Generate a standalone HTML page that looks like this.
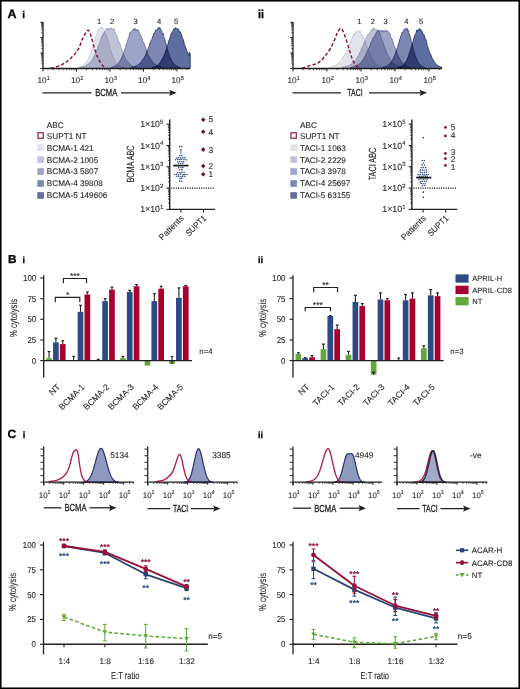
<!DOCTYPE html>
<html><head><meta charset="utf-8"><style>
html,body{margin:0;padding:0;background:#fff;}
svg{display:block;font-family:'Liberation Sans', sans-serif;text-rendering:geometricPrecision;}
</style></head><body>
<svg width="520" height="689" viewBox="0 0 520 689">
<rect width="520" height="689" fill="#fff"/>
<rect x="0.75" y="0.75" width="518.5" height="687.5" fill="none" stroke="#000" stroke-width="1.6"/>
<text x="0" y="0" font-size="12.2" text-anchor="start" font-weight="bold" fill="#000" stroke="#000" stroke-width="0.3" transform="translate(7.50,18.00) scale(1.02,1)" >A</text>
<text x="0" y="0" font-size="9.9" text-anchor="start" font-weight="bold" fill="#000" stroke="#000" stroke-width="0.3" transform="translate(22.30,18.00)" >i</text>
<text x="0" y="0" font-size="11.6" text-anchor="start" font-weight="bold" fill="#000" stroke="#000" stroke-width="0.3" transform="translate(258.00,17.80) scale(0.92,1)" >ii</text>
<text x="0" y="0" font-size="11.6" text-anchor="start" font-weight="bold" fill="#000" stroke="#000" stroke-width="0.3" transform="translate(8.00,262.70) scale(1.02,1)" >B</text>
<text x="0" y="0" font-size="8.9" text-anchor="start" font-weight="bold" fill="#000" stroke="#000" stroke-width="0.3" transform="translate(22.60,262.70)" >i</text>
<text x="0" y="0" font-size="9.1" text-anchor="start" font-weight="bold" fill="#000" stroke="#000" stroke-width="0.3" transform="translate(258.00,262.90)" >ii</text>
<text x="0" y="0" font-size="11.9" text-anchor="start" font-weight="bold" fill="#000" stroke="#000" stroke-width="0.3" transform="translate(7.60,438.20) scale(1.02,1)" >C</text>
<text x="0" y="0" font-size="9.2" text-anchor="start" font-weight="bold" fill="#000" stroke="#000" stroke-width="0.3" transform="translate(22.80,438.20)" >i</text>
<text x="0" y="0" font-size="8.9" text-anchor="start" font-weight="bold" fill="#000" stroke="#000" stroke-width="0.3" transform="translate(258.00,437.70)" >ii</text>
<path d="M78.20,68.50 L78.20,67.41 L78.70,67.30 L79.20,67.17 L79.70,67.02 L80.20,66.85 L80.70,66.67 L81.20,66.46 L81.70,66.22 L82.20,65.96 L82.70,65.67 L83.20,65.33 L83.70,64.96 L84.20,64.55 L84.70,64.08 L85.20,63.56 L85.70,62.99 L86.20,62.35 L86.70,61.64 L87.20,60.87 L87.70,60.12 L88.20,59.33 L88.70,57.98 L89.20,57.35 L89.70,55.82 L90.20,54.74 L90.70,53.76 L91.20,51.89 L91.70,51.03 L92.20,49.03 L92.70,48.01 L93.20,46.43 L93.70,44.28 L94.20,41.92 L94.70,41.61 L95.20,39.83 L95.70,37.41 L96.20,35.15 L96.70,34.53 L97.20,33.60 L97.70,30.88 L98.20,32.15 L98.70,29.00 L99.20,29.71 L99.70,29.45 L100.20,29.04 L100.70,28.18 L101.20,26.68 L101.70,28.42 L102.20,27.34 L102.70,27.46 L103.20,28.71 L103.70,28.92 L104.20,31.12 L104.70,32.17 L105.20,32.99 L105.70,33.17 L106.20,35.27 L106.70,37.11 L107.20,38.18 L107.70,40.18 L108.20,42.21 L108.70,43.09 L109.20,45.03 L109.70,47.47 L110.20,48.67 L110.70,50.37 L111.20,51.53 L111.70,53.22 L112.20,55.06 L112.70,55.76 L113.20,57.70 L113.70,58.59 L114.20,59.41 L114.70,60.53 L115.20,61.39 L115.70,62.17 L116.20,62.87 L116.70,63.50 L117.20,64.07 L117.70,64.57 L118.20,65.01 L118.70,65.40 L119.20,65.75 L119.70,66.06 L120.20,66.33 L120.70,66.57 L121.20,66.78 L121.70,66.96 L122.20,67.13 L122.70,67.27 L123.20,67.40 L123.20,68.50 Z" fill="rgb(226,227,237)" stroke="rgb(196,198,214)" stroke-width="0.9" stroke-linejoin="round" style="mix-blend-mode:multiply"/>
<path d="M80.41,68.50 L80.41,67.45 L80.91,67.35 L81.41,67.25 L81.91,67.13 L82.41,67.01 L82.91,66.87 L83.41,66.71 L83.91,66.54 L84.41,66.36 L84.91,66.15 L85.41,65.92 L85.91,65.67 L86.41,65.39 L86.91,65.09 L87.41,64.75 L87.91,64.38 L88.41,63.98 L88.91,63.54 L89.41,63.05 L89.91,62.53 L90.41,61.96 L90.91,61.33 L91.41,60.66 L91.91,60.15 L92.41,59.17 L92.91,58.66 L93.41,57.32 L93.91,56.29 L94.41,55.45 L94.91,54.10 L95.41,53.57 L95.91,52.01 L96.41,50.92 L96.91,49.71 L97.41,48.61 L97.91,46.74 L98.41,45.23 L98.91,44.65 L99.41,42.97 L99.91,42.75 L100.41,40.21 L100.91,39.00 L101.41,36.98 L101.91,36.09 L102.41,36.13 L102.91,34.80 L103.41,33.07 L103.91,33.73 L104.41,31.77 L104.91,31.78 L105.41,31.28 L105.91,30.91 L106.41,28.56 L106.91,30.03 L107.41,29.54 L107.91,29.10 L108.41,28.01 L108.91,29.97 L109.41,28.94 L109.91,28.66 L110.41,28.01 L110.91,28.01 L111.41,28.01 L111.91,29.42 L112.41,29.15 L112.91,29.57 L113.41,28.55 L113.91,28.93 L114.41,31.77 L114.91,32.51 L115.41,33.30 L115.91,34.33 L116.41,34.87 L116.91,35.87 L117.41,37.90 L117.91,39.78 L118.41,40.32 L118.91,41.84 L119.41,42.93 L119.91,43.75 L120.41,45.67 L120.91,47.38 L121.41,48.65 L121.91,49.96 L122.41,52.04 L122.91,52.35 L123.41,53.73 L123.91,54.83 L124.41,56.03 L124.91,57.40 L125.41,58.36 L125.91,59.46 L126.41,59.96 L126.91,60.82 L127.41,61.54 L127.91,62.19 L128.41,62.80 L128.91,63.35 L129.41,63.84 L129.91,64.30 L130.41,64.71 L130.91,65.08 L131.41,65.41 L131.91,65.71 L132.41,65.98 L132.91,66.22 L133.41,66.44 L133.91,66.63 L134.41,66.81 L134.91,66.97 L135.41,67.11 L135.91,67.24 L136.41,67.35 L136.41,68.50 Z" fill="rgb(192,195,216)" stroke="rgb(150,154,182)" stroke-width="0.9" stroke-linejoin="round" style="mix-blend-mode:multiply"/>
<path d="M111.06,68.50 L111.06,67.46 L111.56,67.34 L112.06,67.21 L112.56,67.07 L113.06,66.90 L113.56,66.71 L114.06,66.51 L114.56,66.27 L115.06,66.00 L115.56,65.70 L116.06,65.37 L116.56,64.99 L117.06,64.56 L117.56,64.08 L118.06,63.55 L118.56,62.95 L119.06,62.29 L119.56,61.57 L120.06,60.76 L120.56,60.15 L121.06,59.22 L121.56,58.11 L122.06,57.05 L122.56,55.72 L123.06,54.74 L123.56,53.49 L124.06,51.95 L124.56,50.57 L125.06,48.71 L125.56,47.66 L126.06,44.74 L126.56,43.54 L127.06,42.77 L127.56,41.01 L128.06,39.28 L128.56,37.76 L129.06,36.89 L129.56,33.87 L130.06,32.26 L130.56,32.45 L131.06,31.45 L131.56,31.71 L132.06,31.06 L132.56,29.97 L133.06,29.92 L133.56,28.41 L134.06,30.13 L134.56,30.51 L135.06,28.41 L135.56,29.12 L136.06,30.25 L136.56,29.38 L137.06,31.12 L137.56,30.23 L138.06,29.63 L138.56,30.65 L139.06,31.90 L139.56,33.89 L140.06,34.61 L140.56,36.14 L141.06,35.90 L141.56,37.64 L142.06,38.39 L142.56,40.59 L143.06,42.09 L143.56,42.35 L144.06,43.42 L144.56,45.02 L145.06,46.45 L145.56,47.77 L146.06,49.18 L146.56,51.08 L147.06,51.93 L147.56,53.27 L148.06,54.71 L148.56,55.74 L149.06,56.50 L149.56,57.46 L150.06,58.04 L150.56,58.72 L151.06,59.85 L151.56,60.31 L152.06,61.24 L152.56,61.88 L153.06,62.46 L153.56,63.00 L154.06,63.49 L154.56,63.94 L155.06,64.36 L155.56,64.73 L156.06,65.07 L156.56,65.38 L157.06,65.66 L157.56,65.92 L158.06,66.15 L158.56,66.36 L159.06,66.55 L159.56,66.72 L160.06,66.87 L160.56,67.02 L161.06,67.14 L161.56,67.26 L162.06,67.36 L162.56,67.46 L162.56,68.50 Z" fill="rgb(158,164,200)" stroke="rgb(98,105,150)" stroke-width="0.9" stroke-linejoin="round" style="mix-blend-mode:multiply"/>
<path d="M131.08,68.50 L131.08,67.44 L131.58,67.35 L132.08,67.24 L132.58,67.13 L133.08,67.00 L133.58,66.86 L134.08,66.71 L134.58,66.54 L135.08,66.36 L135.58,66.16 L136.08,65.93 L136.58,65.68 L137.08,65.41 L137.58,65.11 L138.08,64.78 L138.58,64.42 L139.08,64.03 L139.58,63.59 L140.08,63.12 L140.58,62.61 L141.08,62.05 L141.58,61.44 L142.08,60.79 L142.58,59.79 L143.08,59.03 L143.58,58.61 L144.08,57.86 L144.58,56.96 L145.08,56.03 L145.58,55.02 L146.08,53.53 L146.58,52.09 L147.08,50.96 L147.58,50.19 L148.08,48.70 L148.58,47.20 L149.08,46.98 L149.58,44.75 L150.08,42.97 L150.58,41.84 L151.08,40.55 L151.58,39.76 L152.08,39.12 L152.58,36.56 L153.08,36.38 L153.58,34.15 L154.08,32.64 L154.58,33.05 L155.08,32.13 L155.58,29.89 L156.08,29.74 L156.58,30.63 L157.08,30.27 L157.58,29.85 L158.08,27.70 L158.58,27.70 L159.08,29.49 L159.58,27.70 L160.08,27.70 L160.58,28.81 L161.08,30.32 L161.58,30.66 L162.08,32.80 L162.58,34.29 L163.08,33.34 L163.58,35.63 L164.08,37.52 L164.58,38.37 L165.08,41.12 L165.58,42.09 L166.08,43.99 L166.58,46.75 L167.08,48.39 L167.58,49.99 L168.08,51.65 L168.58,52.79 L169.08,54.59 L169.58,55.81 L170.08,57.32 L170.58,57.91 L171.08,59.40 L171.58,60.33 L172.08,61.21 L172.58,62.03 L173.08,62.77 L173.58,63.43 L174.08,64.02 L174.58,64.54 L175.08,65.00 L175.58,65.40 L176.08,65.76 L176.58,66.08 L177.08,66.35 L177.58,66.60 L178.08,66.81 L178.58,67.00 L179.08,67.16 L179.58,67.31 L180.08,67.44 L180.08,68.50 Z" fill="rgb(125,135,180)" stroke="rgb(58,68,118)" stroke-width="0.9" stroke-linejoin="round" style="mix-blend-mode:multiply"/>
<path d="M152.20,68.50 L152.20,67.44 L152.70,67.33 L153.20,67.20 L153.70,67.05 L154.20,66.89 L154.70,66.71 L155.20,66.51 L155.70,66.28 L156.20,66.02 L156.70,65.74 L157.20,65.41 L157.70,65.05 L158.20,64.64 L158.70,64.19 L159.20,63.68 L159.70,63.12 L160.20,62.50 L160.70,61.81 L161.20,61.05 L161.70,60.18 L162.20,59.07 L162.70,58.40 L163.20,56.96 L163.70,56.15 L164.20,54.92 L164.70,53.64 L165.20,52.85 L165.70,50.96 L166.20,49.84 L166.70,48.61 L167.20,45.87 L167.70,45.29 L168.20,43.20 L168.70,41.13 L169.20,39.87 L169.70,38.81 L170.20,36.91 L170.70,35.41 L171.20,33.52 L171.70,33.96 L172.20,31.72 L172.70,31.57 L173.20,30.69 L173.70,28.69 L174.20,28.92 L174.70,28.46 L175.20,27.78 L175.70,27.70 L176.20,28.66 L176.70,28.23 L177.20,28.72 L177.70,29.04 L178.20,29.03 L178.70,30.30 L179.20,30.82 L179.70,31.83 L180.20,31.64 L180.70,33.34 L181.20,34.10 L181.70,35.22 L182.20,38.05 L182.70,38.75 L183.20,39.39 L183.70,41.05 L184.20,43.76 L184.70,45.19 L185.20,46.07 L185.70,48.02 L186.20,49.12 L186.70,50.66 L187.20,51.21 L187.70,52.35 L188.20,53.46 L188.70,55.34 L189.20,55.91 L189.60,52.30 L190.20,54.30 L190.20,68.50 Z" fill="rgb(95,110,160)" stroke="rgb(38,48,98)" stroke-width="0.9" stroke-linejoin="round" style="mix-blend-mode:multiply"/>
<path d="M50.50,68.30 C52.08,67.85 57.25,66.73 60.00,65.60 C62.75,64.47 64.88,63.05 67.00,61.50 C69.12,59.95 70.78,58.42 72.70,56.30 C74.62,54.18 76.78,51.88 78.50,48.80 C80.22,45.72 81.37,40.90 83.00,37.80 C84.63,34.70 86.85,30.08 88.30,30.20 C89.75,30.32 90.65,35.40 91.70,38.50 C92.75,41.60 93.55,45.55 94.60,48.80 C95.65,52.05 96.65,55.20 98.00,58.00 C99.35,60.80 101.43,64.00 102.70,65.60 C103.97,67.20 105.12,67.27 105.60,67.60" fill="none" stroke="#8e1b3e" stroke-width="1.5" stroke-dasharray="3.4,2.1"/>
<line x1="43.00" y1="69.10" x2="43.00" y2="22.00" stroke="#231f20" stroke-width="1.3" />
<line x1="40.20" y1="68.50" x2="43.00" y2="68.50" stroke="#231f20" stroke-width="0.9" />
<line x1="41.10" y1="63.83" x2="43.00" y2="63.83" stroke="#231f20" stroke-width="0.7" />
<line x1="41.10" y1="61.10" x2="43.00" y2="61.10" stroke="#231f20" stroke-width="0.7" />
<line x1="41.10" y1="59.17" x2="43.00" y2="59.17" stroke="#231f20" stroke-width="0.7" />
<line x1="41.10" y1="57.67" x2="43.00" y2="57.67" stroke="#231f20" stroke-width="0.7" />
<line x1="41.10" y1="56.44" x2="43.00" y2="56.44" stroke="#231f20" stroke-width="0.7" />
<line x1="41.10" y1="55.40" x2="43.00" y2="55.40" stroke="#231f20" stroke-width="0.7" />
<line x1="41.10" y1="54.50" x2="43.00" y2="54.50" stroke="#231f20" stroke-width="0.7" />
<line x1="41.10" y1="53.71" x2="43.00" y2="53.71" stroke="#231f20" stroke-width="0.7" />
<line x1="40.20" y1="53.00" x2="43.00" y2="53.00" stroke="#231f20" stroke-width="0.9" />
<line x1="41.10" y1="48.33" x2="43.00" y2="48.33" stroke="#231f20" stroke-width="0.7" />
<line x1="41.10" y1="45.60" x2="43.00" y2="45.60" stroke="#231f20" stroke-width="0.7" />
<line x1="41.10" y1="43.67" x2="43.00" y2="43.67" stroke="#231f20" stroke-width="0.7" />
<line x1="41.10" y1="42.17" x2="43.00" y2="42.17" stroke="#231f20" stroke-width="0.7" />
<line x1="41.10" y1="40.94" x2="43.00" y2="40.94" stroke="#231f20" stroke-width="0.7" />
<line x1="41.10" y1="39.90" x2="43.00" y2="39.90" stroke="#231f20" stroke-width="0.7" />
<line x1="41.10" y1="39.00" x2="43.00" y2="39.00" stroke="#231f20" stroke-width="0.7" />
<line x1="41.10" y1="38.21" x2="43.00" y2="38.21" stroke="#231f20" stroke-width="0.7" />
<line x1="40.20" y1="37.50" x2="43.00" y2="37.50" stroke="#231f20" stroke-width="0.9" />
<line x1="41.10" y1="32.83" x2="43.00" y2="32.83" stroke="#231f20" stroke-width="0.7" />
<line x1="41.10" y1="30.10" x2="43.00" y2="30.10" stroke="#231f20" stroke-width="0.7" />
<line x1="41.10" y1="28.17" x2="43.00" y2="28.17" stroke="#231f20" stroke-width="0.7" />
<line x1="41.10" y1="26.67" x2="43.00" y2="26.67" stroke="#231f20" stroke-width="0.7" />
<line x1="41.10" y1="25.44" x2="43.00" y2="25.44" stroke="#231f20" stroke-width="0.7" />
<line x1="41.10" y1="24.40" x2="43.00" y2="24.40" stroke="#231f20" stroke-width="0.7" />
<line x1="41.10" y1="23.50" x2="43.00" y2="23.50" stroke="#231f20" stroke-width="0.7" />
<line x1="41.10" y1="22.71" x2="43.00" y2="22.71" stroke="#231f20" stroke-width="0.7" />
<line x1="40.20" y1="22.30" x2="43.00" y2="22.30" stroke="#231f20" stroke-width="0.9" />
<text x="0" y="0" font-size="7.6" text-anchor="middle" font-weight="normal" fill="#231f20" stroke="#231f20" stroke-width="0.1" transform="translate(99.20,24.00)" >1</text>
<text x="0" y="0" font-size="7.6" text-anchor="middle" font-weight="normal" fill="#231f20" stroke="#231f20" stroke-width="0.1" transform="translate(112.10,24.00)" >2</text>
<text x="0" y="0" font-size="7.6" text-anchor="middle" font-weight="normal" fill="#231f20" stroke="#231f20" stroke-width="0.1" transform="translate(135.70,24.00)" >3</text>
<text x="0" y="0" font-size="7.6" text-anchor="middle" font-weight="normal" fill="#231f20" stroke="#231f20" stroke-width="0.1" transform="translate(159.00,24.00)" >4</text>
<text x="0" y="0" font-size="7.6" text-anchor="middle" font-weight="normal" fill="#231f20" stroke="#231f20" stroke-width="0.1" transform="translate(176.10,24.00)" >5</text>
<line x1="42.40" y1="68.50" x2="190.00" y2="68.50" stroke="#231f20" stroke-width="1.3" />
<line x1="43.00" y1="68.50" x2="43.00" y2="71.50" stroke="#231f20" stroke-width="1" />
<line x1="53.08" y1="68.50" x2="53.08" y2="70.20" stroke="#231f20" stroke-width="0.75" />
<line x1="58.98" y1="68.50" x2="58.98" y2="70.20" stroke="#231f20" stroke-width="0.75" />
<line x1="63.17" y1="68.50" x2="63.17" y2="70.20" stroke="#231f20" stroke-width="0.75" />
<line x1="66.42" y1="68.50" x2="66.42" y2="70.20" stroke="#231f20" stroke-width="0.75" />
<line x1="69.07" y1="68.50" x2="69.07" y2="70.20" stroke="#231f20" stroke-width="0.75" />
<line x1="71.31" y1="68.50" x2="71.31" y2="70.20" stroke="#231f20" stroke-width="0.75" />
<line x1="73.25" y1="68.50" x2="73.25" y2="70.20" stroke="#231f20" stroke-width="0.75" />
<line x1="74.97" y1="68.50" x2="74.97" y2="70.20" stroke="#231f20" stroke-width="0.75" />
<line x1="76.50" y1="68.50" x2="76.50" y2="71.50" stroke="#231f20" stroke-width="1" />
<line x1="86.58" y1="68.50" x2="86.58" y2="70.20" stroke="#231f20" stroke-width="0.75" />
<line x1="92.48" y1="68.50" x2="92.48" y2="70.20" stroke="#231f20" stroke-width="0.75" />
<line x1="96.67" y1="68.50" x2="96.67" y2="70.20" stroke="#231f20" stroke-width="0.75" />
<line x1="99.92" y1="68.50" x2="99.92" y2="70.20" stroke="#231f20" stroke-width="0.75" />
<line x1="102.57" y1="68.50" x2="102.57" y2="70.20" stroke="#231f20" stroke-width="0.75" />
<line x1="104.81" y1="68.50" x2="104.81" y2="70.20" stroke="#231f20" stroke-width="0.75" />
<line x1="106.75" y1="68.50" x2="106.75" y2="70.20" stroke="#231f20" stroke-width="0.75" />
<line x1="108.47" y1="68.50" x2="108.47" y2="70.20" stroke="#231f20" stroke-width="0.75" />
<line x1="110.00" y1="68.50" x2="110.00" y2="71.50" stroke="#231f20" stroke-width="1" />
<line x1="120.08" y1="68.50" x2="120.08" y2="70.20" stroke="#231f20" stroke-width="0.75" />
<line x1="125.98" y1="68.50" x2="125.98" y2="70.20" stroke="#231f20" stroke-width="0.75" />
<line x1="130.17" y1="68.50" x2="130.17" y2="70.20" stroke="#231f20" stroke-width="0.75" />
<line x1="133.42" y1="68.50" x2="133.42" y2="70.20" stroke="#231f20" stroke-width="0.75" />
<line x1="136.07" y1="68.50" x2="136.07" y2="70.20" stroke="#231f20" stroke-width="0.75" />
<line x1="138.31" y1="68.50" x2="138.31" y2="70.20" stroke="#231f20" stroke-width="0.75" />
<line x1="140.25" y1="68.50" x2="140.25" y2="70.20" stroke="#231f20" stroke-width="0.75" />
<line x1="141.97" y1="68.50" x2="141.97" y2="70.20" stroke="#231f20" stroke-width="0.75" />
<line x1="143.50" y1="68.50" x2="143.50" y2="71.50" stroke="#231f20" stroke-width="1" />
<line x1="153.58" y1="68.50" x2="153.58" y2="70.20" stroke="#231f20" stroke-width="0.75" />
<line x1="159.48" y1="68.50" x2="159.48" y2="70.20" stroke="#231f20" stroke-width="0.75" />
<line x1="163.67" y1="68.50" x2="163.67" y2="70.20" stroke="#231f20" stroke-width="0.75" />
<line x1="166.92" y1="68.50" x2="166.92" y2="70.20" stroke="#231f20" stroke-width="0.75" />
<line x1="169.57" y1="68.50" x2="169.57" y2="70.20" stroke="#231f20" stroke-width="0.75" />
<line x1="171.81" y1="68.50" x2="171.81" y2="70.20" stroke="#231f20" stroke-width="0.75" />
<line x1="173.75" y1="68.50" x2="173.75" y2="70.20" stroke="#231f20" stroke-width="0.75" />
<line x1="175.47" y1="68.50" x2="175.47" y2="70.20" stroke="#231f20" stroke-width="0.75" />
<line x1="177.00" y1="68.50" x2="177.00" y2="71.50" stroke="#231f20" stroke-width="1" />
<line x1="187.08" y1="68.50" x2="187.08" y2="70.20" stroke="#231f20" stroke-width="0.75" />
<text x="0" y="0" font-size="8.3" text-anchor="middle" fill="#231f20" stroke="#231f20" stroke-width="0.1" transform="translate(43.60,83.30)">10<tspan font-size="5.7" dy="-3.3">1</tspan></text>
<text x="0" y="0" font-size="8.3" text-anchor="middle" fill="#231f20" stroke="#231f20" stroke-width="0.1" transform="translate(77.10,83.30)">10<tspan font-size="5.7" dy="-3.3">2</tspan></text>
<text x="0" y="0" font-size="8.3" text-anchor="middle" fill="#231f20" stroke="#231f20" stroke-width="0.1" transform="translate(110.60,83.30)">10<tspan font-size="5.7" dy="-3.3">3</tspan></text>
<text x="0" y="0" font-size="8.3" text-anchor="middle" fill="#231f20" stroke="#231f20" stroke-width="0.1" transform="translate(144.10,83.30)">10<tspan font-size="5.7" dy="-3.3">4</tspan></text>
<text x="0" y="0" font-size="8.3" text-anchor="middle" fill="#231f20" stroke="#231f20" stroke-width="0.1" transform="translate(177.60,83.30)">10<tspan font-size="5.7" dy="-3.3">5</tspan></text>
<line x1="42.50" y1="92.80" x2="91.50" y2="92.80" stroke="#231f20" stroke-width="1.25" />
<line x1="121.00" y1="92.80" x2="171.60" y2="92.80" stroke="#231f20" stroke-width="1.25" />
<path d="M169.10,89.70 L176.60,92.80 L169.10,95.90 L170.60,92.80 Z" fill="#231f20"/>
<text x="0" y="0" font-size="10.2" text-anchor="middle" font-weight="normal" fill="#231f20" stroke="#231f20" stroke-width="0.3" transform="translate(106.25,96.40) scale(0.75,1)" >BCMA</text>
<path d="M328.50,68.50 L328.50,67.52 L329.00,67.43 L329.50,67.34 L330.00,67.25 L330.50,67.14 L331.00,67.02 L331.50,66.89 L332.00,66.76 L332.50,66.60 L333.00,66.44 L333.50,66.25 L334.00,66.05 L334.50,65.83 L335.00,65.59 L335.50,65.33 L336.00,65.04 L336.50,64.73 L337.00,64.39 L337.50,64.02 L338.00,63.62 L338.50,63.18 L339.00,62.71 L339.50,62.20 L340.00,61.66 L340.50,61.07 L341.00,60.64 L341.50,59.54 L342.00,58.75 L342.50,58.50 L343.00,57.15 L343.50,56.74 L344.00,55.78 L344.50,54.37 L345.00,53.53 L345.50,53.23 L346.00,51.90 L346.50,50.73 L347.00,49.87 L347.50,48.96 L348.00,47.66 L348.50,45.90 L349.00,45.88 L349.50,43.84 L350.00,42.90 L350.50,42.56 L351.00,40.87 L351.50,39.21 L352.00,38.39 L352.50,38.37 L353.00,35.39 L353.50,34.92 L354.00,33.65 L354.50,34.98 L355.00,33.93 L355.50,33.93 L356.00,31.58 L356.50,32.48 L357.00,32.55 L357.50,31.60 L358.00,30.56 L358.50,30.56 L359.00,32.09 L359.50,32.64 L360.00,31.07 L360.50,32.48 L361.00,32.80 L361.50,35.03 L362.00,35.93 L362.50,35.39 L363.00,37.01 L363.50,38.85 L364.00,38.19 L364.50,40.03 L365.00,40.97 L365.50,43.56 L366.00,43.50 L366.50,46.11 L367.00,46.15 L367.50,48.06 L368.00,49.48 L368.50,50.44 L369.00,51.22 L369.50,53.14 L370.00,54.39 L370.50,55.07 L371.00,56.35 L371.50,57.41 L372.00,58.27 L372.50,59.19 L373.00,59.89 L373.50,60.56 L374.00,61.16 L374.50,61.81 L375.00,62.41 L375.50,62.96 L376.00,63.47 L376.50,63.93 L377.00,64.35 L377.50,64.74 L378.00,65.09 L378.50,65.40 L379.00,65.69 L379.50,65.95 L380.00,66.18 L380.50,66.40 L381.00,66.59 L381.50,66.76 L382.00,66.91 L382.50,67.06 L383.00,67.18 L383.50,67.30 L384.00,67.40 L384.50,67.50 L384.50,68.50 Z" fill="rgb(226,227,237)" stroke="rgb(196,198,214)" stroke-width="0.9" stroke-linejoin="round" style="mix-blend-mode:multiply"/>
<path d="M342.12,68.50 L342.12,67.45 L342.62,67.37 L343.12,67.28 L343.62,67.18 L344.12,67.08 L344.62,66.96 L345.12,66.84 L345.62,66.70 L346.12,66.56 L346.62,66.40 L347.12,66.23 L347.62,66.04 L348.12,65.83 L348.62,65.61 L349.12,65.36 L349.62,65.10 L350.12,64.81 L350.62,64.50 L351.12,64.16 L351.62,63.80 L352.12,63.40 L352.62,62.98 L353.12,62.52 L353.62,62.02 L354.12,61.49 L354.62,60.93 L355.12,60.44 L355.62,59.52 L356.12,59.14 L356.62,58.27 L357.12,57.76 L357.62,56.83 L358.12,56.28 L358.62,55.21 L359.12,54.53 L359.62,52.83 L360.12,52.03 L360.62,51.43 L361.12,50.02 L361.62,48.31 L362.12,48.36 L362.62,46.18 L363.12,45.63 L363.62,44.37 L364.12,42.62 L364.62,42.25 L365.12,40.89 L365.62,39.40 L366.12,37.66 L366.62,37.92 L367.12,35.79 L367.62,35.05 L368.12,34.25 L368.62,33.90 L369.12,33.20 L369.62,33.18 L370.12,32.30 L370.62,31.85 L371.12,29.52 L371.62,30.38 L372.12,30.27 L372.62,30.22 L373.12,28.01 L373.62,28.01 L374.12,28.33 L374.62,29.41 L375.12,29.52 L375.62,29.40 L376.12,29.10 L376.62,30.22 L377.12,29.86 L377.62,30.91 L378.12,29.75 L378.62,30.54 L379.12,32.55 L379.62,34.29 L380.12,33.66 L380.62,36.37 L381.12,37.48 L381.62,39.50 L382.12,40.02 L382.62,41.19 L383.12,42.52 L383.62,44.43 L384.12,45.29 L384.62,47.43 L385.12,48.36 L385.62,49.90 L386.12,50.77 L386.62,52.42 L387.12,53.60 L387.62,54.44 L388.12,55.58 L388.62,56.30 L389.12,57.33 L389.62,58.10 L390.12,59.04 L390.62,59.82 L391.12,60.70 L391.62,61.39 L392.12,62.03 L392.62,62.61 L393.12,63.15 L393.62,63.64 L394.12,64.09 L394.62,64.50 L395.12,64.87 L395.62,65.21 L396.12,65.51 L396.62,65.79 L397.12,66.04 L397.62,66.26 L398.12,66.47 L398.62,66.65 L399.12,66.81 L399.62,66.96 L400.12,67.10 L400.62,67.22 L401.12,67.33 L401.62,67.43 L401.62,68.50 Z" fill="rgb(192,195,216)" stroke="rgb(150,154,182)" stroke-width="0.9" stroke-linejoin="round" style="mix-blend-mode:multiply"/>
<path d="M350.49,68.50 L350.49,67.51 L350.99,67.42 L351.49,67.33 L351.99,67.22 L352.49,67.11 L352.99,66.99 L353.49,66.85 L353.99,66.71 L354.49,66.54 L354.99,66.36 L355.49,66.17 L355.99,65.95 L356.49,65.71 L356.99,65.45 L357.49,65.17 L357.99,64.86 L358.49,64.51 L358.99,64.14 L359.49,63.74 L359.99,63.30 L360.49,62.82 L360.99,62.30 L361.49,61.74 L361.99,61.14 L362.49,60.28 L362.99,59.86 L363.49,59.17 L363.99,57.92 L364.49,57.71 L364.99,56.37 L365.49,55.50 L365.99,55.10 L366.49,53.30 L366.99,52.16 L367.49,51.35 L367.99,50.09 L368.49,48.81 L368.99,48.57 L369.49,46.83 L369.99,45.66 L370.49,43.90 L370.99,42.72 L371.49,41.46 L371.99,40.73 L372.49,38.96 L372.99,38.26 L373.49,37.16 L373.99,37.17 L374.49,36.70 L374.99,35.61 L375.49,34.28 L375.99,34.20 L376.49,31.76 L376.99,31.93 L377.49,31.32 L377.99,31.00 L378.49,30.64 L378.99,31.04 L379.49,32.30 L379.99,30.25 L380.49,30.35 L380.99,30.99 L381.49,30.91 L381.99,30.58 L382.49,32.14 L382.99,30.38 L383.49,31.65 L383.99,32.12 L384.49,31.62 L384.99,30.40 L385.49,31.77 L385.99,30.37 L386.49,30.25 L386.99,31.06 L387.49,31.56 L387.99,31.66 L388.49,31.65 L388.99,32.10 L389.49,33.27 L389.99,34.12 L390.49,36.47 L390.99,37.40 L391.49,38.35 L391.99,38.61 L392.49,40.84 L392.99,41.72 L393.49,44.12 L393.99,45.43 L394.49,46.49 L394.99,47.31 L395.49,48.70 L395.99,50.12 L396.49,51.92 L396.99,52.94 L397.49,54.23 L397.99,55.40 L398.49,56.81 L398.99,57.23 L399.49,58.73 L399.99,59.13 L400.49,60.03 L400.99,61.06 L401.49,61.78 L401.99,62.44 L402.49,63.04 L402.99,63.58 L403.49,64.08 L403.99,64.53 L404.49,64.93 L404.99,65.29 L405.49,65.61 L405.99,65.90 L406.49,66.16 L406.99,66.40 L407.49,66.60 L407.99,66.79 L408.49,66.96 L408.99,67.11 L409.49,67.24 L409.99,67.36 L410.49,67.47 L410.49,68.50 Z" fill="rgb(158,164,200)" stroke="rgb(98,105,150)" stroke-width="0.9" stroke-linejoin="round" style="mix-blend-mode:multiply"/>
<path d="M383.03,68.50 L383.03,67.43 L383.53,67.32 L384.03,67.18 L384.53,67.04 L385.03,66.87 L385.53,66.68 L386.03,66.47 L386.53,66.24 L387.03,65.97 L387.53,65.67 L388.03,65.34 L388.53,64.96 L389.03,64.54 L389.53,64.06 L390.03,63.54 L390.53,62.95 L391.03,62.30 L391.53,61.58 L392.03,60.79 L392.53,60.21 L393.03,59.01 L393.53,57.72 L394.03,56.47 L394.53,55.71 L395.03,54.63 L395.53,53.38 L396.03,51.13 L396.53,50.55 L397.03,48.54 L397.53,47.62 L398.03,45.44 L398.53,43.07 L399.03,42.89 L399.53,39.97 L400.03,38.98 L400.53,36.61 L401.03,35.50 L401.53,35.20 L402.03,32.27 L402.53,32.10 L403.03,32.26 L403.53,31.45 L404.03,29.40 L404.53,28.95 L405.03,28.98 L405.53,29.24 L406.03,28.67 L406.53,29.00 L407.03,28.07 L407.53,31.13 L408.03,30.13 L408.53,31.15 L409.03,34.37 L409.53,34.02 L410.03,36.26 L410.53,37.71 L411.03,40.85 L411.53,42.60 L412.03,44.49 L412.53,45.46 L413.03,48.00 L413.53,50.14 L414.03,51.80 L414.53,53.62 L415.03,55.37 L415.53,56.74 L416.03,57.49 L416.53,59.11 L417.03,59.83 L417.53,61.09 L418.03,61.99 L418.53,62.79 L419.03,63.50 L419.53,64.13 L420.03,64.68 L420.53,65.16 L421.03,65.58 L421.53,65.94 L422.03,66.26 L422.53,66.53 L423.03,66.77 L423.53,66.98 L424.03,67.16 L424.53,67.32 L424.53,68.50 Z" fill="rgb(125,135,180)" stroke="rgb(58,68,118)" stroke-width="0.9" stroke-linejoin="round" style="mix-blend-mode:multiply"/>
<path d="M398.14,68.50 L398.14,67.47 L398.64,67.34 L399.14,67.20 L399.64,67.03 L400.14,66.84 L400.64,66.63 L401.14,66.39 L401.64,66.11 L402.14,65.79 L402.64,65.43 L403.14,65.02 L403.64,64.56 L404.14,64.03 L404.64,63.44 L405.14,62.77 L405.64,62.02 L406.14,61.19 L406.64,60.41 L407.14,59.41 L407.64,58.14 L408.14,57.19 L408.64,55.75 L409.14,53.78 L409.64,52.33 L410.14,50.82 L410.64,49.39 L411.14,47.28 L411.64,45.45 L412.14,44.30 L412.64,42.23 L413.14,41.76 L413.64,38.71 L414.14,37.66 L414.64,35.44 L415.14,34.24 L415.64,33.82 L416.14,33.31 L416.64,30.10 L417.14,31.45 L417.64,29.99 L418.14,30.02 L418.64,30.05 L419.14,28.85 L419.64,28.72 L420.14,30.20 L420.64,29.33 L421.14,30.67 L421.64,30.54 L422.14,31.69 L422.64,33.13 L423.14,34.13 L423.64,35.12 L424.14,34.74 L424.64,37.02 L425.14,39.02 L425.64,39.09 L426.14,40.49 L426.64,43.06 L427.14,45.14 L427.64,46.57 L428.14,48.22 L428.64,49.34 L429.14,51.10 L429.64,52.30 L430.14,53.61 L430.64,54.57 L431.14,55.52 L431.64,56.80 L432.14,58.14 L432.64,59.12 L433.14,59.97 L433.64,60.83 L434.14,61.60 L434.64,62.31 L435.14,62.95 L435.64,63.53 L436.14,64.05 L436.64,64.52 L437.14,64.93 L437.64,65.31 L438.14,65.64 L438.64,65.94 L439.14,66.21 L439.64,66.45 L440.14,66.66 L440.64,66.84 L441.14,67.01 L441.64,67.16 L441.64,68.50 Z" fill="rgb(95,110,160)" stroke="rgb(38,48,98)" stroke-width="0.9" stroke-linejoin="round" style="mix-blend-mode:multiply"/>
<path d="M302.00,68.30 C303.40,67.82 307.73,66.28 310.40,65.40 C313.07,64.52 315.70,64.40 318.00,63.00 C320.30,61.60 322.13,59.42 324.20,57.00 C326.27,54.58 328.47,51.83 330.40,48.50 C332.33,45.17 334.62,39.75 335.80,37.00 C336.98,34.25 336.60,33.42 337.50,32.00 C338.40,30.58 340.08,28.20 341.20,28.50 C342.32,28.80 343.18,31.38 344.20,33.80 C345.22,36.22 346.40,40.17 347.30,43.00 C348.20,45.83 348.82,48.22 349.60,50.80 C350.38,53.38 351.23,56.47 352.00,58.50 C352.77,60.53 353.45,61.72 354.20,63.00 C354.95,64.28 355.78,65.40 356.50,66.20 C357.22,67.00 358.17,67.53 358.50,67.80" fill="none" stroke="#8e1b3e" stroke-width="1.5" stroke-dasharray="3.4,2.1"/>
<line x1="293.00" y1="69.10" x2="293.00" y2="22.00" stroke="#231f20" stroke-width="1.3" />
<line x1="290.20" y1="68.50" x2="293.00" y2="68.50" stroke="#231f20" stroke-width="0.9" />
<line x1="291.10" y1="63.83" x2="293.00" y2="63.83" stroke="#231f20" stroke-width="0.7" />
<line x1="291.10" y1="61.10" x2="293.00" y2="61.10" stroke="#231f20" stroke-width="0.7" />
<line x1="291.10" y1="59.17" x2="293.00" y2="59.17" stroke="#231f20" stroke-width="0.7" />
<line x1="291.10" y1="57.67" x2="293.00" y2="57.67" stroke="#231f20" stroke-width="0.7" />
<line x1="291.10" y1="56.44" x2="293.00" y2="56.44" stroke="#231f20" stroke-width="0.7" />
<line x1="291.10" y1="55.40" x2="293.00" y2="55.40" stroke="#231f20" stroke-width="0.7" />
<line x1="291.10" y1="54.50" x2="293.00" y2="54.50" stroke="#231f20" stroke-width="0.7" />
<line x1="291.10" y1="53.71" x2="293.00" y2="53.71" stroke="#231f20" stroke-width="0.7" />
<line x1="290.20" y1="53.00" x2="293.00" y2="53.00" stroke="#231f20" stroke-width="0.9" />
<line x1="291.10" y1="48.33" x2="293.00" y2="48.33" stroke="#231f20" stroke-width="0.7" />
<line x1="291.10" y1="45.60" x2="293.00" y2="45.60" stroke="#231f20" stroke-width="0.7" />
<line x1="291.10" y1="43.67" x2="293.00" y2="43.67" stroke="#231f20" stroke-width="0.7" />
<line x1="291.10" y1="42.17" x2="293.00" y2="42.17" stroke="#231f20" stroke-width="0.7" />
<line x1="291.10" y1="40.94" x2="293.00" y2="40.94" stroke="#231f20" stroke-width="0.7" />
<line x1="291.10" y1="39.90" x2="293.00" y2="39.90" stroke="#231f20" stroke-width="0.7" />
<line x1="291.10" y1="39.00" x2="293.00" y2="39.00" stroke="#231f20" stroke-width="0.7" />
<line x1="291.10" y1="38.21" x2="293.00" y2="38.21" stroke="#231f20" stroke-width="0.7" />
<line x1="290.20" y1="37.50" x2="293.00" y2="37.50" stroke="#231f20" stroke-width="0.9" />
<line x1="291.10" y1="32.83" x2="293.00" y2="32.83" stroke="#231f20" stroke-width="0.7" />
<line x1="291.10" y1="30.10" x2="293.00" y2="30.10" stroke="#231f20" stroke-width="0.7" />
<line x1="291.10" y1="28.17" x2="293.00" y2="28.17" stroke="#231f20" stroke-width="0.7" />
<line x1="291.10" y1="26.67" x2="293.00" y2="26.67" stroke="#231f20" stroke-width="0.7" />
<line x1="291.10" y1="25.44" x2="293.00" y2="25.44" stroke="#231f20" stroke-width="0.7" />
<line x1="291.10" y1="24.40" x2="293.00" y2="24.40" stroke="#231f20" stroke-width="0.7" />
<line x1="291.10" y1="23.50" x2="293.00" y2="23.50" stroke="#231f20" stroke-width="0.7" />
<line x1="291.10" y1="22.71" x2="293.00" y2="22.71" stroke="#231f20" stroke-width="0.7" />
<line x1="290.20" y1="22.30" x2="293.00" y2="22.30" stroke="#231f20" stroke-width="0.9" />
<text x="0" y="0" font-size="7.6" text-anchor="middle" font-weight="normal" fill="#231f20" stroke="#231f20" stroke-width="0.1" transform="translate(359.30,24.00)" >1</text>
<text x="0" y="0" font-size="7.6" text-anchor="middle" font-weight="normal" fill="#231f20" stroke="#231f20" stroke-width="0.1" transform="translate(372.80,24.00)" >2</text>
<text x="0" y="0" font-size="7.6" text-anchor="middle" font-weight="normal" fill="#231f20" stroke="#231f20" stroke-width="0.1" transform="translate(385.60,24.00)" >3</text>
<text x="0" y="0" font-size="7.6" text-anchor="middle" font-weight="normal" fill="#231f20" stroke="#231f20" stroke-width="0.1" transform="translate(406.40,24.00)" >4</text>
<text x="0" y="0" font-size="7.6" text-anchor="middle" font-weight="normal" fill="#231f20" stroke="#231f20" stroke-width="0.1" transform="translate(421.20,24.00)" >5</text>
<line x1="292.40" y1="68.50" x2="442.00" y2="68.50" stroke="#231f20" stroke-width="1.3" />
<line x1="293.00" y1="68.50" x2="293.00" y2="71.50" stroke="#231f20" stroke-width="1" />
<line x1="303.24" y1="68.50" x2="303.24" y2="70.20" stroke="#231f20" stroke-width="0.75" />
<line x1="309.22" y1="68.50" x2="309.22" y2="70.20" stroke="#231f20" stroke-width="0.75" />
<line x1="313.47" y1="68.50" x2="313.47" y2="70.20" stroke="#231f20" stroke-width="0.75" />
<line x1="316.76" y1="68.50" x2="316.76" y2="70.20" stroke="#231f20" stroke-width="0.75" />
<line x1="319.46" y1="68.50" x2="319.46" y2="70.20" stroke="#231f20" stroke-width="0.75" />
<line x1="321.73" y1="68.50" x2="321.73" y2="70.20" stroke="#231f20" stroke-width="0.75" />
<line x1="323.71" y1="68.50" x2="323.71" y2="70.20" stroke="#231f20" stroke-width="0.75" />
<line x1="325.44" y1="68.50" x2="325.44" y2="70.20" stroke="#231f20" stroke-width="0.75" />
<line x1="327.00" y1="68.50" x2="327.00" y2="71.50" stroke="#231f20" stroke-width="1" />
<line x1="337.24" y1="68.50" x2="337.24" y2="70.20" stroke="#231f20" stroke-width="0.75" />
<line x1="343.22" y1="68.50" x2="343.22" y2="70.20" stroke="#231f20" stroke-width="0.75" />
<line x1="347.47" y1="68.50" x2="347.47" y2="70.20" stroke="#231f20" stroke-width="0.75" />
<line x1="350.76" y1="68.50" x2="350.76" y2="70.20" stroke="#231f20" stroke-width="0.75" />
<line x1="353.46" y1="68.50" x2="353.46" y2="70.20" stroke="#231f20" stroke-width="0.75" />
<line x1="355.73" y1="68.50" x2="355.73" y2="70.20" stroke="#231f20" stroke-width="0.75" />
<line x1="357.71" y1="68.50" x2="357.71" y2="70.20" stroke="#231f20" stroke-width="0.75" />
<line x1="359.44" y1="68.50" x2="359.44" y2="70.20" stroke="#231f20" stroke-width="0.75" />
<line x1="361.00" y1="68.50" x2="361.00" y2="71.50" stroke="#231f20" stroke-width="1" />
<line x1="371.24" y1="68.50" x2="371.24" y2="70.20" stroke="#231f20" stroke-width="0.75" />
<line x1="377.22" y1="68.50" x2="377.22" y2="70.20" stroke="#231f20" stroke-width="0.75" />
<line x1="381.47" y1="68.50" x2="381.47" y2="70.20" stroke="#231f20" stroke-width="0.75" />
<line x1="384.76" y1="68.50" x2="384.76" y2="70.20" stroke="#231f20" stroke-width="0.75" />
<line x1="387.46" y1="68.50" x2="387.46" y2="70.20" stroke="#231f20" stroke-width="0.75" />
<line x1="389.73" y1="68.50" x2="389.73" y2="70.20" stroke="#231f20" stroke-width="0.75" />
<line x1="391.71" y1="68.50" x2="391.71" y2="70.20" stroke="#231f20" stroke-width="0.75" />
<line x1="393.44" y1="68.50" x2="393.44" y2="70.20" stroke="#231f20" stroke-width="0.75" />
<line x1="395.00" y1="68.50" x2="395.00" y2="71.50" stroke="#231f20" stroke-width="1" />
<line x1="405.24" y1="68.50" x2="405.24" y2="70.20" stroke="#231f20" stroke-width="0.75" />
<line x1="411.22" y1="68.50" x2="411.22" y2="70.20" stroke="#231f20" stroke-width="0.75" />
<line x1="415.47" y1="68.50" x2="415.47" y2="70.20" stroke="#231f20" stroke-width="0.75" />
<line x1="418.76" y1="68.50" x2="418.76" y2="70.20" stroke="#231f20" stroke-width="0.75" />
<line x1="421.46" y1="68.50" x2="421.46" y2="70.20" stroke="#231f20" stroke-width="0.75" />
<line x1="423.73" y1="68.50" x2="423.73" y2="70.20" stroke="#231f20" stroke-width="0.75" />
<line x1="425.71" y1="68.50" x2="425.71" y2="70.20" stroke="#231f20" stroke-width="0.75" />
<line x1="427.44" y1="68.50" x2="427.44" y2="70.20" stroke="#231f20" stroke-width="0.75" />
<line x1="429.00" y1="68.50" x2="429.00" y2="71.50" stroke="#231f20" stroke-width="1" />
<line x1="439.24" y1="68.50" x2="439.24" y2="70.20" stroke="#231f20" stroke-width="0.75" />
<text x="0" y="0" font-size="8.3" text-anchor="middle" fill="#231f20" stroke="#231f20" stroke-width="0.1" transform="translate(293.60,83.30)">10<tspan font-size="5.7" dy="-3.3">1</tspan></text>
<text x="0" y="0" font-size="8.3" text-anchor="middle" fill="#231f20" stroke="#231f20" stroke-width="0.1" transform="translate(327.60,83.30)">10<tspan font-size="5.7" dy="-3.3">2</tspan></text>
<text x="0" y="0" font-size="8.3" text-anchor="middle" fill="#231f20" stroke="#231f20" stroke-width="0.1" transform="translate(361.60,83.30)">10<tspan font-size="5.7" dy="-3.3">3</tspan></text>
<text x="0" y="0" font-size="8.3" text-anchor="middle" fill="#231f20" stroke="#231f20" stroke-width="0.1" transform="translate(395.60,83.30)">10<tspan font-size="5.7" dy="-3.3">4</tspan></text>
<text x="0" y="0" font-size="8.3" text-anchor="middle" fill="#231f20" stroke="#231f20" stroke-width="0.1" transform="translate(429.60,83.30)">10<tspan font-size="5.7" dy="-3.3">5</tspan></text>
<line x1="292.50" y1="92.80" x2="341.00" y2="92.80" stroke="#231f20" stroke-width="1.25" />
<line x1="369.00" y1="92.80" x2="422.00" y2="92.80" stroke="#231f20" stroke-width="1.25" />
<path d="M419.50,89.70 L427.00,92.80 L419.50,95.90 L421.00,92.80 Z" fill="#231f20"/>
<text x="0" y="0" font-size="10.2" text-anchor="middle" font-weight="normal" fill="#231f20" stroke="#231f20" stroke-width="0.3" transform="translate(355.00,96.40) scale(0.68,1)" >TACI</text>
<text x="0" y="0" font-size="8.2" text-anchor="start" font-weight="normal" fill="#231f20" stroke="#231f20" stroke-width="0.1" transform="translate(46.80,127.90)" >ABC</text>
<rect x="37.90" y="132.80" width="5.4" height="5.4" fill="#fff" stroke="#8e1b3e" stroke-width="1.2"/>
<text x="0" y="0" font-size="8.2" text-anchor="start" font-weight="normal" fill="#231f20" stroke="#231f20" stroke-width="0.1" transform="translate(46.80,138.60)" >SUPT1 NT</text>
<rect x="37.30" y="144.35" width="6.60" height="6.60" fill="rgb(226,227,237)" />
<text x="0" y="0" font-size="8.2" text-anchor="start" font-weight="normal" fill="#231f20" stroke="#231f20" stroke-width="0.1" transform="translate(46.80,150.55)" >BCMA-1 421</text>
<rect x="37.30" y="156.30" width="6.60" height="6.60" fill="rgb(192,195,216)" />
<text x="0" y="0" font-size="8.2" text-anchor="start" font-weight="normal" fill="#231f20" stroke="#231f20" stroke-width="0.1" transform="translate(46.80,162.50)" >BCMA-2 1005</text>
<rect x="37.30" y="168.25" width="6.60" height="6.60" fill="rgb(158,164,200)" />
<text x="0" y="0" font-size="8.2" text-anchor="start" font-weight="normal" fill="#231f20" stroke="#231f20" stroke-width="0.1" transform="translate(46.80,174.45)" >BCMA-3 5807</text>
<rect x="37.30" y="180.20" width="6.60" height="6.60" fill="rgb(125,135,180)" />
<text x="0" y="0" font-size="8.2" text-anchor="start" font-weight="normal" fill="#231f20" stroke="#231f20" stroke-width="0.1" transform="translate(46.80,186.40)" >BCMA-4 39808</text>
<rect x="37.30" y="192.15" width="6.60" height="6.60" fill="rgb(95,110,160)" />
<text x="0" y="0" font-size="8.2" text-anchor="start" font-weight="normal" fill="#231f20" stroke="#231f20" stroke-width="0.1" transform="translate(46.80,198.35)" >BCMA-5 149606</text>
<text x="0" y="0" font-size="8.2" text-anchor="start" font-weight="normal" fill="#231f20" stroke="#231f20" stroke-width="0.1" transform="translate(300.00,127.90)" >ABC</text>
<rect x="290.90" y="132.80" width="5.4" height="5.4" fill="#fff" stroke="#8e1b3e" stroke-width="1.2"/>
<text x="0" y="0" font-size="8.2" text-anchor="start" font-weight="normal" fill="#231f20" stroke="#231f20" stroke-width="0.1" transform="translate(300.00,138.60)" >SUPT1 NT</text>
<rect x="290.30" y="144.35" width="6.60" height="6.60" fill="rgb(226,227,237)" />
<text x="0" y="0" font-size="8.2" text-anchor="start" font-weight="normal" fill="#231f20" stroke="#231f20" stroke-width="0.1" transform="translate(300.00,150.55)" >TACI-1 1063</text>
<rect x="290.30" y="156.30" width="6.60" height="6.60" fill="rgb(192,195,216)" />
<text x="0" y="0" font-size="8.2" text-anchor="start" font-weight="normal" fill="#231f20" stroke="#231f20" stroke-width="0.1" transform="translate(300.00,162.50)" >TACI-2 2229</text>
<rect x="290.30" y="168.25" width="6.60" height="6.60" fill="rgb(158,164,200)" />
<text x="0" y="0" font-size="8.2" text-anchor="start" font-weight="normal" fill="#231f20" stroke="#231f20" stroke-width="0.1" transform="translate(300.00,174.45)" >TACI-3 3978</text>
<rect x="290.30" y="180.20" width="6.60" height="6.60" fill="rgb(125,135,180)" />
<text x="0" y="0" font-size="8.2" text-anchor="start" font-weight="normal" fill="#231f20" stroke="#231f20" stroke-width="0.1" transform="translate(300.00,186.40)" >TACI-4 25697</text>
<rect x="290.30" y="192.15" width="6.60" height="6.60" fill="rgb(95,110,160)" />
<text x="0" y="0" font-size="8.2" text-anchor="start" font-weight="normal" fill="#231f20" stroke="#231f20" stroke-width="0.1" transform="translate(300.00,198.35)" >TACI-5 63155</text>
<line x1="169.70" y1="119.50" x2="169.70" y2="210.00" stroke="#231f20" stroke-width="1.4" />
<line x1="169.10" y1="209.40" x2="215.20" y2="209.40" stroke="#231f20" stroke-width="1.4" />
<line x1="166.50" y1="209.40" x2="169.70" y2="209.40" stroke="#231f20" stroke-width="1.1" />
<line x1="167.90" y1="202.99" x2="169.70" y2="202.99" stroke="#231f20" stroke-width="0.75" />
<line x1="167.90" y1="199.24" x2="169.70" y2="199.24" stroke="#231f20" stroke-width="0.75" />
<line x1="167.90" y1="196.58" x2="169.70" y2="196.58" stroke="#231f20" stroke-width="0.75" />
<line x1="167.90" y1="194.51" x2="169.70" y2="194.51" stroke="#231f20" stroke-width="0.75" />
<line x1="167.90" y1="192.83" x2="169.70" y2="192.83" stroke="#231f20" stroke-width="0.75" />
<line x1="167.90" y1="191.40" x2="169.70" y2="191.40" stroke="#231f20" stroke-width="0.75" />
<line x1="167.90" y1="190.16" x2="169.70" y2="190.16" stroke="#231f20" stroke-width="0.75" />
<line x1="167.90" y1="189.07" x2="169.70" y2="189.07" stroke="#231f20" stroke-width="0.75" />
<text x="0" y="0" font-size="8.8" text-anchor="end" fill="#231f20" stroke="#231f20" stroke-width="0.1" transform="translate(163.30,212.40)">1×10<tspan font-size="6.0" dy="-3.4">1</tspan></text>
<line x1="166.50" y1="188.10" x2="169.70" y2="188.10" stroke="#231f20" stroke-width="1.1" />
<line x1="167.90" y1="181.69" x2="169.70" y2="181.69" stroke="#231f20" stroke-width="0.75" />
<line x1="167.90" y1="177.94" x2="169.70" y2="177.94" stroke="#231f20" stroke-width="0.75" />
<line x1="167.90" y1="175.28" x2="169.70" y2="175.28" stroke="#231f20" stroke-width="0.75" />
<line x1="167.90" y1="173.21" x2="169.70" y2="173.21" stroke="#231f20" stroke-width="0.75" />
<line x1="167.90" y1="171.53" x2="169.70" y2="171.53" stroke="#231f20" stroke-width="0.75" />
<line x1="167.90" y1="170.10" x2="169.70" y2="170.10" stroke="#231f20" stroke-width="0.75" />
<line x1="167.90" y1="168.86" x2="169.70" y2="168.86" stroke="#231f20" stroke-width="0.75" />
<line x1="167.90" y1="167.77" x2="169.70" y2="167.77" stroke="#231f20" stroke-width="0.75" />
<text x="0" y="0" font-size="8.8" text-anchor="end" fill="#231f20" stroke="#231f20" stroke-width="0.1" transform="translate(163.30,191.10)">1×10<tspan font-size="6.0" dy="-3.4">2</tspan></text>
<line x1="166.50" y1="166.80" x2="169.70" y2="166.80" stroke="#231f20" stroke-width="1.1" />
<line x1="167.90" y1="160.39" x2="169.70" y2="160.39" stroke="#231f20" stroke-width="0.75" />
<line x1="167.90" y1="156.64" x2="169.70" y2="156.64" stroke="#231f20" stroke-width="0.75" />
<line x1="167.90" y1="153.98" x2="169.70" y2="153.98" stroke="#231f20" stroke-width="0.75" />
<line x1="167.90" y1="151.91" x2="169.70" y2="151.91" stroke="#231f20" stroke-width="0.75" />
<line x1="167.90" y1="150.23" x2="169.70" y2="150.23" stroke="#231f20" stroke-width="0.75" />
<line x1="167.90" y1="148.80" x2="169.70" y2="148.80" stroke="#231f20" stroke-width="0.75" />
<line x1="167.90" y1="147.56" x2="169.70" y2="147.56" stroke="#231f20" stroke-width="0.75" />
<line x1="167.90" y1="146.47" x2="169.70" y2="146.47" stroke="#231f20" stroke-width="0.75" />
<text x="0" y="0" font-size="8.8" text-anchor="end" fill="#231f20" stroke="#231f20" stroke-width="0.1" transform="translate(163.30,169.80)">1×10<tspan font-size="6.0" dy="-3.4">3</tspan></text>
<line x1="166.50" y1="145.50" x2="169.70" y2="145.50" stroke="#231f20" stroke-width="1.1" />
<line x1="167.90" y1="139.09" x2="169.70" y2="139.09" stroke="#231f20" stroke-width="0.75" />
<line x1="167.90" y1="135.34" x2="169.70" y2="135.34" stroke="#231f20" stroke-width="0.75" />
<line x1="167.90" y1="132.68" x2="169.70" y2="132.68" stroke="#231f20" stroke-width="0.75" />
<line x1="167.90" y1="130.61" x2="169.70" y2="130.61" stroke="#231f20" stroke-width="0.75" />
<line x1="167.90" y1="128.93" x2="169.70" y2="128.93" stroke="#231f20" stroke-width="0.75" />
<line x1="167.90" y1="127.50" x2="169.70" y2="127.50" stroke="#231f20" stroke-width="0.75" />
<line x1="167.90" y1="126.26" x2="169.70" y2="126.26" stroke="#231f20" stroke-width="0.75" />
<line x1="167.90" y1="125.17" x2="169.70" y2="125.17" stroke="#231f20" stroke-width="0.75" />
<text x="0" y="0" font-size="8.8" text-anchor="end" fill="#231f20" stroke="#231f20" stroke-width="0.1" transform="translate(163.30,148.50)">1×10<tspan font-size="6.0" dy="-3.4">4</tspan></text>
<line x1="166.50" y1="124.20" x2="169.70" y2="124.20" stroke="#231f20" stroke-width="1.1" />
<text x="0" y="0" font-size="8.8" text-anchor="end" fill="#231f20" stroke="#231f20" stroke-width="0.1" transform="translate(163.30,127.20)">1×10<tspan font-size="6.0" dy="-3.4">5</tspan></text>
<line x1="180.90" y1="209.40" x2="180.90" y2="212.40" stroke="#231f20" stroke-width="1.1" />
<line x1="203.50" y1="209.40" x2="203.50" y2="212.40" stroke="#231f20" stroke-width="1.1" />
<line x1="171.20" y1="188.10" x2="213.70" y2="188.10" stroke="#111" stroke-width="1.15" stroke-dasharray="1.1,1.2"/>
<text x="0" y="0" font-size="10.4" text-anchor="middle" font-weight="normal" fill="#231f20" stroke="#231f20" stroke-width="0.1" transform="translate(133.60,164.00) rotate(-90) scale(0.7,1)" >BCMA ABC</text>
<text x="0" y="0" font-size="8.6" text-anchor="end" font-weight="normal" fill="#231f20" stroke="#231f20" stroke-width="0.1" transform="translate(184.30,218.80) rotate(-45)" >Patients</text>
<text x="0" y="0" font-size="8.6" text-anchor="end" font-weight="normal" fill="#231f20" stroke="#231f20" stroke-width="0.1" transform="translate(206.90,218.80) rotate(-45) scale(0.92,1)" >SUPT1</text>
<circle cx="179.65" cy="146.67" r="0.8" fill="#34507e"/>
<circle cx="181.85" cy="146.37" r="0.8" fill="#34507e"/>
<circle cx="180.95" cy="149.51" r="0.8" fill="#34507e"/>
<circle cx="180.93" cy="151.06" r="0.8" fill="#34507e"/>
<circle cx="180.83" cy="153.00" r="0.8" fill="#34507e"/>
<circle cx="179.83" cy="155.58" r="0.8" fill="#34507e"/>
<circle cx="181.92" cy="155.64" r="0.8" fill="#34507e"/>
<circle cx="176.52" cy="157.97" r="0.8" fill="#34507e"/>
<circle cx="178.60" cy="157.68" r="0.8" fill="#34507e"/>
<circle cx="180.57" cy="158.03" r="0.8" fill="#34507e"/>
<circle cx="182.89" cy="157.73" r="0.8" fill="#34507e"/>
<circle cx="184.88" cy="157.81" r="0.8" fill="#34507e"/>
<circle cx="175.61" cy="159.74" r="0.8" fill="#34507e"/>
<circle cx="177.69" cy="159.42" r="0.8" fill="#34507e"/>
<circle cx="179.83" cy="159.52" r="0.8" fill="#34507e"/>
<circle cx="181.67" cy="159.37" r="0.8" fill="#34507e"/>
<circle cx="184.04" cy="159.33" r="0.8" fill="#34507e"/>
<circle cx="186.16" cy="159.74" r="0.8" fill="#34507e"/>
<circle cx="177.84" cy="161.80" r="0.8" fill="#34507e"/>
<circle cx="179.68" cy="161.53" r="0.8" fill="#34507e"/>
<circle cx="181.85" cy="161.77" r="0.8" fill="#34507e"/>
<circle cx="183.68" cy="161.59" r="0.8" fill="#34507e"/>
<circle cx="178.55" cy="163.44" r="0.8" fill="#34507e"/>
<circle cx="180.64" cy="163.55" r="0.8" fill="#34507e"/>
<circle cx="182.83" cy="163.29" r="0.8" fill="#34507e"/>
<circle cx="178.59" cy="167.60" r="0.8" fill="#34507e"/>
<circle cx="181.01" cy="167.82" r="0.8" fill="#34507e"/>
<circle cx="182.83" cy="167.52" r="0.8" fill="#34507e"/>
<circle cx="179.62" cy="169.73" r="0.8" fill="#34507e"/>
<circle cx="181.94" cy="169.67" r="0.8" fill="#34507e"/>
<circle cx="177.74" cy="172.45" r="0.8" fill="#34507e"/>
<circle cx="179.92" cy="172.57" r="0.8" fill="#34507e"/>
<circle cx="181.84" cy="172.22" r="0.8" fill="#34507e"/>
<circle cx="184.11" cy="172.31" r="0.8" fill="#34507e"/>
<circle cx="174.54" cy="174.62" r="0.8" fill="#34507e"/>
<circle cx="176.62" cy="174.24" r="0.8" fill="#34507e"/>
<circle cx="178.50" cy="174.68" r="0.8" fill="#34507e"/>
<circle cx="180.68" cy="174.13" r="0.8" fill="#34507e"/>
<circle cx="183.09" cy="174.57" r="0.8" fill="#34507e"/>
<circle cx="184.83" cy="174.53" r="0.8" fill="#34507e"/>
<circle cx="186.99" cy="174.43" r="0.8" fill="#34507e"/>
<circle cx="176.58" cy="176.23" r="0.8" fill="#34507e"/>
<circle cx="178.56" cy="176.18" r="0.8" fill="#34507e"/>
<circle cx="180.90" cy="176.44" r="0.8" fill="#34507e"/>
<circle cx="182.75" cy="176.17" r="0.8" fill="#34507e"/>
<circle cx="184.81" cy="176.34" r="0.8" fill="#34507e"/>
<circle cx="180.02" cy="178.65" r="0.8" fill="#34507e"/>
<circle cx="181.83" cy="178.13" r="0.8" fill="#34507e"/>
<circle cx="179.68" cy="181.14" r="0.8" fill="#34507e"/>
<circle cx="181.86" cy="181.36" r="0.8" fill="#34507e"/>
<line x1="173.30" y1="165.60" x2="188.40" y2="165.60" stroke="#111" stroke-width="1.7" />
<path d="M203.20,171.90 L205.40,174.20 L203.20,176.50 L201.00,174.20 Z" fill="#6e0c2e"/>
<text x="0" y="0" font-size="8.4" text-anchor="start" font-weight="normal" fill="#231f20" stroke="#231f20" stroke-width="0.1" transform="translate(208.60,177.30)" >1</text>
<path d="M203.20,163.70 L205.40,166.00 L203.20,168.30 L201.00,166.00 Z" fill="#6e0c2e"/>
<text x="0" y="0" font-size="8.4" text-anchor="start" font-weight="normal" fill="#231f20" stroke="#231f20" stroke-width="0.1" transform="translate(208.60,168.80)" >2</text>
<path d="M203.20,147.30 L205.40,149.60 L203.20,151.90 L201.00,149.60 Z" fill="#6e0c2e"/>
<text x="0" y="0" font-size="8.4" text-anchor="start" font-weight="normal" fill="#231f20" stroke="#231f20" stroke-width="0.1" transform="translate(208.60,152.50)" >3</text>
<path d="M203.20,129.50 L205.40,131.80 L203.20,134.10 L201.00,131.80 Z" fill="#6e0c2e"/>
<text x="0" y="0" font-size="8.4" text-anchor="start" font-weight="normal" fill="#231f20" stroke="#231f20" stroke-width="0.1" transform="translate(208.60,134.70)" >4</text>
<path d="M203.20,117.50 L205.40,119.80 L203.20,122.10 L201.00,119.80 Z" fill="#6e0c2e"/>
<text x="0" y="0" font-size="8.4" text-anchor="start" font-weight="normal" fill="#231f20" stroke="#231f20" stroke-width="0.1" transform="translate(208.60,122.20)" >5</text>
<line x1="411.90" y1="119.50" x2="411.90" y2="210.00" stroke="#231f20" stroke-width="1.4" />
<line x1="411.30" y1="209.40" x2="457.40" y2="209.40" stroke="#231f20" stroke-width="1.4" />
<line x1="408.70" y1="209.40" x2="411.90" y2="209.40" stroke="#231f20" stroke-width="1.1" />
<line x1="410.10" y1="202.99" x2="411.90" y2="202.99" stroke="#231f20" stroke-width="0.75" />
<line x1="410.10" y1="199.24" x2="411.90" y2="199.24" stroke="#231f20" stroke-width="0.75" />
<line x1="410.10" y1="196.58" x2="411.90" y2="196.58" stroke="#231f20" stroke-width="0.75" />
<line x1="410.10" y1="194.51" x2="411.90" y2="194.51" stroke="#231f20" stroke-width="0.75" />
<line x1="410.10" y1="192.83" x2="411.90" y2="192.83" stroke="#231f20" stroke-width="0.75" />
<line x1="410.10" y1="191.40" x2="411.90" y2="191.40" stroke="#231f20" stroke-width="0.75" />
<line x1="410.10" y1="190.16" x2="411.90" y2="190.16" stroke="#231f20" stroke-width="0.75" />
<line x1="410.10" y1="189.07" x2="411.90" y2="189.07" stroke="#231f20" stroke-width="0.75" />
<text x="0" y="0" font-size="8.8" text-anchor="end" fill="#231f20" stroke="#231f20" stroke-width="0.1" transform="translate(405.50,212.40)">1×10<tspan font-size="6.0" dy="-3.4">1</tspan></text>
<line x1="408.70" y1="188.10" x2="411.90" y2="188.10" stroke="#231f20" stroke-width="1.1" />
<line x1="410.10" y1="181.69" x2="411.90" y2="181.69" stroke="#231f20" stroke-width="0.75" />
<line x1="410.10" y1="177.94" x2="411.90" y2="177.94" stroke="#231f20" stroke-width="0.75" />
<line x1="410.10" y1="175.28" x2="411.90" y2="175.28" stroke="#231f20" stroke-width="0.75" />
<line x1="410.10" y1="173.21" x2="411.90" y2="173.21" stroke="#231f20" stroke-width="0.75" />
<line x1="410.10" y1="171.53" x2="411.90" y2="171.53" stroke="#231f20" stroke-width="0.75" />
<line x1="410.10" y1="170.10" x2="411.90" y2="170.10" stroke="#231f20" stroke-width="0.75" />
<line x1="410.10" y1="168.86" x2="411.90" y2="168.86" stroke="#231f20" stroke-width="0.75" />
<line x1="410.10" y1="167.77" x2="411.90" y2="167.77" stroke="#231f20" stroke-width="0.75" />
<text x="0" y="0" font-size="8.8" text-anchor="end" fill="#231f20" stroke="#231f20" stroke-width="0.1" transform="translate(405.50,191.10)">1×10<tspan font-size="6.0" dy="-3.4">2</tspan></text>
<line x1="408.70" y1="166.80" x2="411.90" y2="166.80" stroke="#231f20" stroke-width="1.1" />
<line x1="410.10" y1="160.39" x2="411.90" y2="160.39" stroke="#231f20" stroke-width="0.75" />
<line x1="410.10" y1="156.64" x2="411.90" y2="156.64" stroke="#231f20" stroke-width="0.75" />
<line x1="410.10" y1="153.98" x2="411.90" y2="153.98" stroke="#231f20" stroke-width="0.75" />
<line x1="410.10" y1="151.91" x2="411.90" y2="151.91" stroke="#231f20" stroke-width="0.75" />
<line x1="410.10" y1="150.23" x2="411.90" y2="150.23" stroke="#231f20" stroke-width="0.75" />
<line x1="410.10" y1="148.80" x2="411.90" y2="148.80" stroke="#231f20" stroke-width="0.75" />
<line x1="410.10" y1="147.56" x2="411.90" y2="147.56" stroke="#231f20" stroke-width="0.75" />
<line x1="410.10" y1="146.47" x2="411.90" y2="146.47" stroke="#231f20" stroke-width="0.75" />
<text x="0" y="0" font-size="8.8" text-anchor="end" fill="#231f20" stroke="#231f20" stroke-width="0.1" transform="translate(405.50,169.80)">1×10<tspan font-size="6.0" dy="-3.4">3</tspan></text>
<line x1="408.70" y1="145.50" x2="411.90" y2="145.50" stroke="#231f20" stroke-width="1.1" />
<line x1="410.10" y1="139.09" x2="411.90" y2="139.09" stroke="#231f20" stroke-width="0.75" />
<line x1="410.10" y1="135.34" x2="411.90" y2="135.34" stroke="#231f20" stroke-width="0.75" />
<line x1="410.10" y1="132.68" x2="411.90" y2="132.68" stroke="#231f20" stroke-width="0.75" />
<line x1="410.10" y1="130.61" x2="411.90" y2="130.61" stroke="#231f20" stroke-width="0.75" />
<line x1="410.10" y1="128.93" x2="411.90" y2="128.93" stroke="#231f20" stroke-width="0.75" />
<line x1="410.10" y1="127.50" x2="411.90" y2="127.50" stroke="#231f20" stroke-width="0.75" />
<line x1="410.10" y1="126.26" x2="411.90" y2="126.26" stroke="#231f20" stroke-width="0.75" />
<line x1="410.10" y1="125.17" x2="411.90" y2="125.17" stroke="#231f20" stroke-width="0.75" />
<text x="0" y="0" font-size="8.8" text-anchor="end" fill="#231f20" stroke="#231f20" stroke-width="0.1" transform="translate(405.50,148.50)">1×10<tspan font-size="6.0" dy="-3.4">4</tspan></text>
<line x1="408.70" y1="124.20" x2="411.90" y2="124.20" stroke="#231f20" stroke-width="1.1" />
<text x="0" y="0" font-size="8.8" text-anchor="end" fill="#231f20" stroke="#231f20" stroke-width="0.1" transform="translate(405.50,127.20)">1×10<tspan font-size="6.0" dy="-3.4">5</tspan></text>
<line x1="423.10" y1="209.40" x2="423.10" y2="212.40" stroke="#231f20" stroke-width="1.1" />
<line x1="445.70" y1="209.40" x2="445.70" y2="212.40" stroke="#231f20" stroke-width="1.1" />
<line x1="413.40" y1="188.10" x2="455.90" y2="188.10" stroke="#111" stroke-width="1.15" stroke-dasharray="1.1,1.2"/>
<text x="0" y="0" font-size="10.4" text-anchor="middle" font-weight="normal" fill="#231f20" stroke="#231f20" stroke-width="0.1" transform="translate(375.60,164.00) rotate(-90) scale(0.7,1)" >TACI ABC</text>
<text x="0" y="0" font-size="8.6" text-anchor="end" font-weight="normal" fill="#231f20" stroke="#231f20" stroke-width="0.1" transform="translate(426.50,218.80) rotate(-45)" >Patients</text>
<text x="0" y="0" font-size="8.6" text-anchor="end" font-weight="normal" fill="#231f20" stroke="#231f20" stroke-width="0.1" transform="translate(449.10,218.80) rotate(-45) scale(0.92,1)" >SUPT1</text>
<circle cx="422.13" cy="160.50" r="0.8" fill="#34507e"/>
<circle cx="424.38" cy="160.44" r="0.8" fill="#34507e"/>
<circle cx="423.50" cy="162.94" r="0.8" fill="#34507e"/>
<circle cx="422.13" cy="164.91" r="0.8" fill="#34507e"/>
<circle cx="424.54" cy="165.31" r="0.8" fill="#34507e"/>
<circle cx="421.39" cy="167.76" r="0.8" fill="#34507e"/>
<circle cx="423.41" cy="167.43" r="0.8" fill="#34507e"/>
<circle cx="425.54" cy="167.66" r="0.8" fill="#34507e"/>
<circle cx="420.33" cy="170.12" r="0.8" fill="#34507e"/>
<circle cx="422.40" cy="170.05" r="0.8" fill="#34507e"/>
<circle cx="424.10" cy="170.18" r="0.8" fill="#34507e"/>
<circle cx="426.42" cy="170.03" r="0.8" fill="#34507e"/>
<circle cx="420.25" cy="172.11" r="0.8" fill="#34507e"/>
<circle cx="422.07" cy="172.51" r="0.8" fill="#34507e"/>
<circle cx="424.34" cy="172.52" r="0.8" fill="#34507e"/>
<circle cx="426.25" cy="172.14" r="0.8" fill="#34507e"/>
<circle cx="418.09" cy="174.46" r="0.8" fill="#34507e"/>
<circle cx="420.29" cy="174.48" r="0.8" fill="#34507e"/>
<circle cx="422.46" cy="174.58" r="0.8" fill="#34507e"/>
<circle cx="424.25" cy="174.83" r="0.8" fill="#34507e"/>
<circle cx="426.47" cy="174.79" r="0.8" fill="#34507e"/>
<circle cx="428.24" cy="174.43" r="0.8" fill="#34507e"/>
<circle cx="419.21" cy="176.15" r="0.8" fill="#34507e"/>
<circle cx="421.27" cy="176.52" r="0.8" fill="#34507e"/>
<circle cx="423.25" cy="176.28" r="0.8" fill="#34507e"/>
<circle cx="425.48" cy="176.13" r="0.8" fill="#34507e"/>
<circle cx="427.17" cy="176.26" r="0.8" fill="#34507e"/>
<circle cx="418.98" cy="179.45" r="0.8" fill="#34507e"/>
<circle cx="421.04" cy="179.03" r="0.8" fill="#34507e"/>
<circle cx="423.35" cy="179.24" r="0.8" fill="#34507e"/>
<circle cx="425.39" cy="178.99" r="0.8" fill="#34507e"/>
<circle cx="427.42" cy="178.99" r="0.8" fill="#34507e"/>
<circle cx="420.39" cy="181.68" r="0.8" fill="#34507e"/>
<circle cx="422.32" cy="181.25" r="0.8" fill="#34507e"/>
<circle cx="424.35" cy="181.32" r="0.8" fill="#34507e"/>
<circle cx="426.37" cy="181.17" r="0.8" fill="#34507e"/>
<circle cx="421.06" cy="183.57" r="0.8" fill="#34507e"/>
<circle cx="423.24" cy="183.76" r="0.8" fill="#34507e"/>
<circle cx="425.17" cy="183.79" r="0.8" fill="#34507e"/>
<circle cx="422.41" cy="185.77" r="0.8" fill="#34507e"/>
<circle cx="424.57" cy="185.54" r="0.8" fill="#34507e"/>
<line x1="416.20" y1="177.60" x2="431.40" y2="177.60" stroke="#111" stroke-width="1.7" />
<circle cx="423.30" cy="137.60" r="0.85" fill="#2d4270"/>
<circle cx="423.30" cy="192.20" r="0.85" fill="#2d4270"/>
<circle cx="423.30" cy="197.30" r="0.85" fill="#2d4270"/>
<circle cx="445.40" cy="165.40" r="1.35" fill="#7a1034"/>
<text x="0" y="0" font-size="8.4" text-anchor="start" font-weight="normal" fill="#231f20" stroke="#231f20" stroke-width="0.1" transform="translate(450.80,170.00)" >1</text>
<circle cx="445.40" cy="158.60" r="1.35" fill="#7a1034"/>
<text x="0" y="0" font-size="8.4" text-anchor="start" font-weight="normal" fill="#231f20" stroke="#231f20" stroke-width="0.1" transform="translate(450.80,162.10)" >2</text>
<circle cx="445.40" cy="153.40" r="1.35" fill="#7a1034"/>
<text x="0" y="0" font-size="8.4" text-anchor="start" font-weight="normal" fill="#231f20" stroke="#231f20" stroke-width="0.1" transform="translate(450.80,154.60)" >3</text>
<circle cx="445.40" cy="135.90" r="1.35" fill="#7a1034"/>
<text x="0" y="0" font-size="8.4" text-anchor="start" font-weight="normal" fill="#231f20" stroke="#231f20" stroke-width="0.1" transform="translate(450.80,138.40)" >4</text>
<circle cx="445.40" cy="127.40" r="1.35" fill="#7a1034"/>
<text x="0" y="0" font-size="8.4" text-anchor="start" font-weight="normal" fill="#231f20" stroke="#231f20" stroke-width="0.1" transform="translate(450.80,130.10)" >5</text>
<rect x="46.20" y="358.12" width="5.70" height="2.48" fill="#64a83c" />
<line x1="49.05" y1="358.12" x2="49.05" y2="351.51" stroke="#231f20" stroke-width="1.1" />
<line x1="47.65" y1="351.51" x2="50.45" y2="351.51" stroke="#231f20" stroke-width="1.2" />
<rect x="53.05" y="342.43" width="5.70" height="18.17" fill="#2e4a85" />
<line x1="55.90" y1="342.43" x2="55.90" y2="338.30" stroke="#231f20" stroke-width="1.1" />
<line x1="54.50" y1="338.30" x2="57.30" y2="338.30" stroke="#231f20" stroke-width="1.2" />
<rect x="59.90" y="344.08" width="5.70" height="16.52" fill="#a8002c" />
<line x1="62.75" y1="344.08" x2="62.75" y2="340.78" stroke="#231f20" stroke-width="1.1" />
<line x1="61.35" y1="340.78" x2="64.15" y2="340.78" stroke="#231f20" stroke-width="1.2" />
<rect x="70.80" y="360.60" width="5.70" height="0.00" fill="#64a83c" />
<line x1="73.65" y1="360.60" x2="73.65" y2="356.47" stroke="#231f20" stroke-width="1.1" />
<line x1="72.25" y1="356.47" x2="75.05" y2="356.47" stroke="#231f20" stroke-width="1.2" />
<rect x="77.65" y="311.87" width="5.70" height="48.73" fill="#2e4a85" />
<line x1="80.50" y1="311.87" x2="80.50" y2="305.26" stroke="#231f20" stroke-width="1.1" />
<line x1="79.10" y1="305.26" x2="81.90" y2="305.26" stroke="#231f20" stroke-width="1.2" />
<rect x="84.50" y="294.52" width="5.70" height="66.08" fill="#a8002c" />
<line x1="87.35" y1="294.52" x2="87.35" y2="292.04" stroke="#231f20" stroke-width="1.1" />
<line x1="85.95" y1="292.04" x2="88.75" y2="292.04" stroke="#231f20" stroke-width="1.2" />
<rect x="95.40" y="360.19" width="5.70" height="0.41" fill="#64a83c" />
<line x1="98.25" y1="360.19" x2="98.25" y2="359.36" stroke="#231f20" stroke-width="1.1" />
<line x1="96.85" y1="359.36" x2="99.65" y2="359.36" stroke="#231f20" stroke-width="1.2" />
<rect x="102.25" y="301.13" width="5.70" height="59.47" fill="#2e4a85" />
<line x1="105.10" y1="301.13" x2="105.10" y2="298.65" stroke="#231f20" stroke-width="1.1" />
<line x1="103.70" y1="298.65" x2="106.50" y2="298.65" stroke="#231f20" stroke-width="1.2" />
<rect x="109.10" y="289.56" width="5.70" height="71.04" fill="#a8002c" />
<line x1="111.95" y1="289.56" x2="111.95" y2="287.09" stroke="#231f20" stroke-width="1.1" />
<line x1="110.55" y1="287.09" x2="113.35" y2="287.09" stroke="#231f20" stroke-width="1.2" />
<rect x="120.00" y="358.12" width="5.70" height="2.48" fill="#64a83c" />
<line x1="122.85" y1="358.12" x2="122.85" y2="356.47" stroke="#231f20" stroke-width="1.1" />
<line x1="121.45" y1="356.47" x2="124.25" y2="356.47" stroke="#231f20" stroke-width="1.2" />
<rect x="126.85" y="292.04" width="5.70" height="68.56" fill="#2e4a85" />
<line x1="129.70" y1="292.04" x2="129.70" y2="290.39" stroke="#231f20" stroke-width="1.1" />
<line x1="128.30" y1="290.39" x2="131.10" y2="290.39" stroke="#231f20" stroke-width="1.2" />
<rect x="133.70" y="286.26" width="5.70" height="74.34" fill="#a8002c" />
<line x1="136.55" y1="286.26" x2="136.55" y2="284.61" stroke="#231f20" stroke-width="1.1" />
<line x1="135.15" y1="284.61" x2="137.95" y2="284.61" stroke="#231f20" stroke-width="1.2" />
<rect x="144.60" y="360.60" width="5.70" height="4.96" fill="#64a83c" />
<rect x="151.45" y="301.13" width="5.70" height="59.47" fill="#2e4a85" />
<line x1="154.30" y1="301.13" x2="154.30" y2="293.69" stroke="#231f20" stroke-width="1.1" />
<line x1="152.90" y1="293.69" x2="155.70" y2="293.69" stroke="#231f20" stroke-width="1.2" />
<rect x="158.30" y="288.74" width="5.70" height="71.86" fill="#a8002c" />
<line x1="161.15" y1="288.74" x2="161.15" y2="286.26" stroke="#231f20" stroke-width="1.1" />
<line x1="159.75" y1="286.26" x2="162.55" y2="286.26" stroke="#231f20" stroke-width="1.2" />
<rect x="169.20" y="360.60" width="5.70" height="3.30" fill="#64a83c" />
<line x1="172.05" y1="363.90" x2="172.05" y2="356.47" stroke="#231f20" stroke-width="1.1" />
<line x1="170.65" y1="356.47" x2="173.45" y2="356.47" stroke="#231f20" stroke-width="1.2" />
<rect x="176.05" y="297.82" width="5.70" height="62.78" fill="#2e4a85" />
<line x1="178.90" y1="297.82" x2="178.90" y2="287.91" stroke="#231f20" stroke-width="1.1" />
<line x1="177.50" y1="287.91" x2="180.30" y2="287.91" stroke="#231f20" stroke-width="1.2" />
<rect x="182.90" y="286.26" width="5.70" height="74.34" fill="#a8002c" />
<line x1="185.75" y1="286.26" x2="185.75" y2="285.43" stroke="#231f20" stroke-width="1.1" />
<line x1="184.35" y1="285.43" x2="187.15" y2="285.43" stroke="#231f20" stroke-width="1.2" />
<line x1="43.70" y1="275.20" x2="43.70" y2="377.50" stroke="#231f20" stroke-width="1.3" />
<line x1="43.10" y1="360.60" x2="192.00" y2="360.60" stroke="#231f20" stroke-width="1.4" />
<line x1="40.20" y1="360.60" x2="43.70" y2="360.60" stroke="#231f20" stroke-width="1.1" />
<text x="0" y="0" font-size="8.5" text-anchor="end" font-weight="normal" fill="#231f20" stroke="#231f20" stroke-width="0.1" transform="translate(36.20,363.50) scale(0.93,1)" >0</text>
<line x1="40.20" y1="339.95" x2="43.70" y2="339.95" stroke="#231f20" stroke-width="1.1" />
<text x="0" y="0" font-size="8.5" text-anchor="end" font-weight="normal" fill="#231f20" stroke="#231f20" stroke-width="0.1" transform="translate(36.20,342.85) scale(0.93,1)" >25</text>
<line x1="40.20" y1="319.30" x2="43.70" y2="319.30" stroke="#231f20" stroke-width="1.1" />
<text x="0" y="0" font-size="8.5" text-anchor="end" font-weight="normal" fill="#231f20" stroke="#231f20" stroke-width="0.1" transform="translate(36.20,322.20) scale(0.93,1)" >50</text>
<line x1="40.20" y1="298.65" x2="43.70" y2="298.65" stroke="#231f20" stroke-width="1.1" />
<text x="0" y="0" font-size="8.5" text-anchor="end" font-weight="normal" fill="#231f20" stroke="#231f20" stroke-width="0.1" transform="translate(36.20,301.55) scale(0.93,1)" >75</text>
<line x1="40.20" y1="278.00" x2="43.70" y2="278.00" stroke="#231f20" stroke-width="1.1" />
<text x="0" y="0" font-size="8.5" text-anchor="end" font-weight="normal" fill="#231f20" stroke="#231f20" stroke-width="0.1" transform="translate(36.20,280.90) scale(0.93,1)" >100</text>
<text x="0" y="0" font-size="10.2" text-anchor="middle" font-weight="normal" fill="#231f20" stroke="#231f20" stroke-width="0.1" transform="translate(16.90,318.00) rotate(-90) scale(0.755,1)" >% cytolysis</text>
<text x="0" y="0" font-size="8.6" text-anchor="end" font-weight="normal" fill="#231f20" stroke="#231f20" stroke-width="0.1" transform="translate(60.60,387.60) rotate(-45)" >NT</text>
<text x="0" y="0" font-size="8.6" text-anchor="end" font-weight="normal" fill="#231f20" stroke="#231f20" stroke-width="0.1" transform="translate(85.20,387.60) rotate(-45)" >BCMA-1</text>
<text x="0" y="0" font-size="8.6" text-anchor="end" font-weight="normal" fill="#231f20" stroke="#231f20" stroke-width="0.1" transform="translate(109.80,387.60) rotate(-45)" >BCMA-2</text>
<text x="0" y="0" font-size="8.6" text-anchor="end" font-weight="normal" fill="#231f20" stroke="#231f20" stroke-width="0.1" transform="translate(134.40,387.60) rotate(-45)" >BCMA-3</text>
<text x="0" y="0" font-size="8.6" text-anchor="end" font-weight="normal" fill="#231f20" stroke="#231f20" stroke-width="0.1" transform="translate(159.00,387.60) rotate(-45)" >BCMA-4</text>
<text x="0" y="0" font-size="8.6" text-anchor="end" font-weight="normal" fill="#231f20" stroke="#231f20" stroke-width="0.1" transform="translate(183.60,387.60) rotate(-45)" >BCMA-5</text>
<text x="0" y="0" font-size="7.8" text-anchor="start" font-weight="normal" fill="#231f20" stroke="#231f20" stroke-width="0.1" transform="translate(199.30,353.80)" >n=4</text>
<path d="M55.30,302.30 L55.30,297.30 L79.80,297.30 L79.80,302.30" fill="none" stroke="#231f20" stroke-width="1.15"/>
<text x="0" y="0" font-size="8.6" text-anchor="middle" font-weight="normal" fill="#231f20" stroke="#231f20" stroke-width="0.1" transform="translate(67.55,297.50)" >*</text>
<path d="M63.40,283.30 L63.40,278.50 L86.50,278.50 L86.50,283.30" fill="none" stroke="#231f20" stroke-width="1.15"/>
<text x="0" y="0" font-size="8.6" text-anchor="middle" font-weight="normal" fill="#231f20" stroke="#231f20" stroke-width="0.1" transform="translate(74.95,278.70)" >***</text>
<rect x="295.50" y="353.99" width="5.70" height="6.61" fill="#64a83c" />
<line x1="298.35" y1="353.99" x2="298.35" y2="352.75" stroke="#231f20" stroke-width="1.1" />
<line x1="296.95" y1="352.75" x2="299.75" y2="352.75" stroke="#231f20" stroke-width="1.2" />
<rect x="302.35" y="358.12" width="5.70" height="2.48" fill="#2e4a85" />
<line x1="305.20" y1="358.12" x2="305.20" y2="357.71" stroke="#231f20" stroke-width="1.1" />
<line x1="303.80" y1="357.71" x2="306.60" y2="357.71" stroke="#231f20" stroke-width="1.2" />
<rect x="309.20" y="357.30" width="5.70" height="3.30" fill="#a8002c" />
<line x1="312.05" y1="357.30" x2="312.05" y2="355.64" stroke="#231f20" stroke-width="1.1" />
<line x1="310.65" y1="355.64" x2="313.45" y2="355.64" stroke="#231f20" stroke-width="1.2" />
<rect x="320.60" y="349.04" width="5.70" height="11.56" fill="#64a83c" />
<line x1="323.45" y1="349.04" x2="323.45" y2="344.08" stroke="#231f20" stroke-width="1.1" />
<line x1="322.05" y1="344.08" x2="324.85" y2="344.08" stroke="#231f20" stroke-width="1.2" />
<rect x="327.45" y="316.00" width="5.70" height="44.60" fill="#2e4a85" />
<line x1="330.30" y1="316.00" x2="330.30" y2="315.58" stroke="#231f20" stroke-width="1.1" />
<line x1="328.90" y1="315.58" x2="331.70" y2="315.58" stroke="#231f20" stroke-width="1.2" />
<rect x="334.30" y="329.21" width="5.70" height="31.39" fill="#a8002c" />
<line x1="337.15" y1="329.21" x2="337.15" y2="325.08" stroke="#231f20" stroke-width="1.1" />
<line x1="335.75" y1="325.08" x2="338.55" y2="325.08" stroke="#231f20" stroke-width="1.2" />
<rect x="345.70" y="354.82" width="5.70" height="5.78" fill="#64a83c" />
<line x1="348.55" y1="354.82" x2="348.55" y2="351.51" stroke="#231f20" stroke-width="1.1" />
<line x1="347.15" y1="351.51" x2="349.95" y2="351.51" stroke="#231f20" stroke-width="1.2" />
<rect x="352.55" y="301.95" width="5.70" height="58.65" fill="#2e4a85" />
<line x1="355.40" y1="301.95" x2="355.40" y2="295.35" stroke="#231f20" stroke-width="1.1" />
<line x1="354.00" y1="295.35" x2="356.80" y2="295.35" stroke="#231f20" stroke-width="1.2" />
<rect x="359.40" y="306.08" width="5.70" height="54.52" fill="#a8002c" />
<line x1="362.25" y1="306.08" x2="362.25" y2="303.61" stroke="#231f20" stroke-width="1.1" />
<line x1="360.85" y1="303.61" x2="363.65" y2="303.61" stroke="#231f20" stroke-width="1.2" />
<rect x="370.80" y="360.60" width="5.70" height="14.04" fill="#64a83c" />
<line x1="373.65" y1="374.64" x2="373.65" y2="372.16" stroke="#231f20" stroke-width="1.1" />
<line x1="372.25" y1="372.16" x2="375.05" y2="372.16" stroke="#231f20" stroke-width="1.2" />
<rect x="377.65" y="299.48" width="5.70" height="61.12" fill="#2e4a85" />
<line x1="380.50" y1="299.48" x2="380.50" y2="292.87" stroke="#231f20" stroke-width="1.1" />
<line x1="379.10" y1="292.87" x2="381.90" y2="292.87" stroke="#231f20" stroke-width="1.2" />
<rect x="384.50" y="300.30" width="5.70" height="60.30" fill="#a8002c" />
<line x1="387.35" y1="300.30" x2="387.35" y2="298.65" stroke="#231f20" stroke-width="1.1" />
<line x1="385.95" y1="298.65" x2="388.75" y2="298.65" stroke="#231f20" stroke-width="1.2" />
<rect x="395.90" y="360.60" width="5.70" height="0.00" fill="#64a83c" />
<line x1="398.75" y1="360.60" x2="398.75" y2="358.12" stroke="#231f20" stroke-width="1.1" />
<line x1="397.35" y1="358.12" x2="400.15" y2="358.12" stroke="#231f20" stroke-width="1.2" />
<rect x="402.75" y="300.30" width="5.70" height="60.30" fill="#2e4a85" />
<line x1="405.60" y1="300.30" x2="405.60" y2="294.52" stroke="#231f20" stroke-width="1.1" />
<line x1="404.20" y1="294.52" x2="407.00" y2="294.52" stroke="#231f20" stroke-width="1.2" />
<rect x="409.60" y="298.65" width="5.70" height="61.95" fill="#a8002c" />
<line x1="412.45" y1="298.65" x2="412.45" y2="292.87" stroke="#231f20" stroke-width="1.1" />
<line x1="411.05" y1="292.87" x2="413.85" y2="292.87" stroke="#231f20" stroke-width="1.2" />
<rect x="421.00" y="348.21" width="5.70" height="12.39" fill="#64a83c" />
<line x1="423.85" y1="348.21" x2="423.85" y2="345.73" stroke="#231f20" stroke-width="1.1" />
<line x1="422.45" y1="345.73" x2="425.25" y2="345.73" stroke="#231f20" stroke-width="1.2" />
<rect x="427.85" y="295.35" width="5.70" height="65.25" fill="#2e4a85" />
<line x1="430.70" y1="295.35" x2="430.70" y2="289.56" stroke="#231f20" stroke-width="1.1" />
<line x1="429.30" y1="289.56" x2="432.10" y2="289.56" stroke="#231f20" stroke-width="1.2" />
<rect x="434.70" y="296.17" width="5.70" height="64.43" fill="#a8002c" />
<line x1="437.55" y1="296.17" x2="437.55" y2="292.87" stroke="#231f20" stroke-width="1.1" />
<line x1="436.15" y1="292.87" x2="438.95" y2="292.87" stroke="#231f20" stroke-width="1.2" />
<line x1="293.00" y1="275.20" x2="293.00" y2="377.50" stroke="#231f20" stroke-width="1.3" />
<line x1="292.40" y1="360.60" x2="443.70" y2="360.60" stroke="#231f20" stroke-width="1.4" />
<line x1="289.50" y1="360.60" x2="293.00" y2="360.60" stroke="#231f20" stroke-width="1.1" />
<text x="0" y="0" font-size="8.5" text-anchor="end" font-weight="normal" fill="#231f20" stroke="#231f20" stroke-width="0.1" transform="translate(285.50,363.50) scale(0.93,1)" >0</text>
<line x1="289.50" y1="339.95" x2="293.00" y2="339.95" stroke="#231f20" stroke-width="1.1" />
<text x="0" y="0" font-size="8.5" text-anchor="end" font-weight="normal" fill="#231f20" stroke="#231f20" stroke-width="0.1" transform="translate(285.50,342.85) scale(0.93,1)" >25</text>
<line x1="289.50" y1="319.30" x2="293.00" y2="319.30" stroke="#231f20" stroke-width="1.1" />
<text x="0" y="0" font-size="8.5" text-anchor="end" font-weight="normal" fill="#231f20" stroke="#231f20" stroke-width="0.1" transform="translate(285.50,322.20) scale(0.93,1)" >50</text>
<line x1="289.50" y1="298.65" x2="293.00" y2="298.65" stroke="#231f20" stroke-width="1.1" />
<text x="0" y="0" font-size="8.5" text-anchor="end" font-weight="normal" fill="#231f20" stroke="#231f20" stroke-width="0.1" transform="translate(285.50,301.55) scale(0.93,1)" >75</text>
<line x1="289.50" y1="278.00" x2="293.00" y2="278.00" stroke="#231f20" stroke-width="1.1" />
<text x="0" y="0" font-size="8.5" text-anchor="end" font-weight="normal" fill="#231f20" stroke="#231f20" stroke-width="0.1" transform="translate(285.50,280.90) scale(0.93,1)" >100</text>
<text x="0" y="0" font-size="10.2" text-anchor="middle" font-weight="normal" fill="#231f20" stroke="#231f20" stroke-width="0.1" transform="translate(266.20,318.00) rotate(-90) scale(0.755,1)" >% cytolysis</text>
<text x="0" y="0" font-size="8.6" text-anchor="end" font-weight="normal" fill="#231f20" stroke="#231f20" stroke-width="0.1" transform="translate(309.90,387.60) rotate(-45)" >NT</text>
<text x="0" y="0" font-size="8.6" text-anchor="end" font-weight="normal" fill="#231f20" stroke="#231f20" stroke-width="0.1" transform="translate(335.00,387.60) rotate(-45)" >TACI-1</text>
<text x="0" y="0" font-size="8.6" text-anchor="end" font-weight="normal" fill="#231f20" stroke="#231f20" stroke-width="0.1" transform="translate(360.10,387.60) rotate(-45)" >TACI-2</text>
<text x="0" y="0" font-size="8.6" text-anchor="end" font-weight="normal" fill="#231f20" stroke="#231f20" stroke-width="0.1" transform="translate(385.20,387.60) rotate(-45)" >TACI-3</text>
<text x="0" y="0" font-size="8.6" text-anchor="end" font-weight="normal" fill="#231f20" stroke="#231f20" stroke-width="0.1" transform="translate(410.30,387.60) rotate(-45)" >TACI-4</text>
<text x="0" y="0" font-size="8.6" text-anchor="end" font-weight="normal" fill="#231f20" stroke="#231f20" stroke-width="0.1" transform="translate(435.40,387.60) rotate(-45)" >TACI-5</text>
<text x="0" y="0" font-size="7.8" text-anchor="start" font-weight="normal" fill="#231f20" stroke="#231f20" stroke-width="0.1" transform="translate(450.30,353.80)" >n=3</text>
<path d="M305.20,311.30 L305.20,307.50 L330.50,307.50 L330.50,311.30" fill="none" stroke="#231f20" stroke-width="1.15"/>
<text x="0" y="0" font-size="8.6" text-anchor="middle" font-weight="normal" fill="#231f20" stroke="#231f20" stroke-width="0.1" transform="translate(317.85,307.70)" >***</text>
<path d="M313.70,292.30 L313.70,287.50 L337.50,287.50 L337.50,292.30" fill="none" stroke="#231f20" stroke-width="1.15"/>
<text x="0" y="0" font-size="8.6" text-anchor="middle" font-weight="normal" fill="#231f20" stroke="#231f20" stroke-width="0.1" transform="translate(325.60,287.70)" >**</text>
<rect x="455.50" y="274.35" width="13.10" height="8.30" fill="#2e4a85" />
<text x="0" y="0" font-size="7.6" text-anchor="start" font-weight="normal" fill="#231f20" stroke="#231f20" stroke-width="0.1" transform="translate(472.20,281.20)" >APRIL-H</text>
<rect x="455.50" y="285.70" width="13.10" height="8.30" fill="#a8002c" />
<text x="0" y="0" font-size="7.6" text-anchor="start" font-weight="normal" fill="#231f20" stroke="#231f20" stroke-width="0.1" transform="translate(472.20,292.55)" >APRIL-CD8</text>
<rect x="455.50" y="297.05" width="13.10" height="8.30" fill="#64a83c" />
<text x="0" y="0" font-size="7.6" text-anchor="start" font-weight="normal" fill="#231f20" stroke="#231f20" stroke-width="0.1" transform="translate(472.20,303.90)" >NT</text>
<path d="M82.85,482.20 L82.85,482.05 L83.35,482.00 L83.85,481.94 L84.35,481.85 L84.85,481.75 L85.35,481.61 L85.85,481.44 L86.35,481.22 L86.85,480.96 L87.35,480.64 L87.85,480.26 L88.35,479.79 L88.85,479.25 L89.35,478.60 L89.85,477.86 L90.35,477.00 L90.85,476.02 L91.35,474.93 L91.85,473.70 L92.35,472.36 L92.85,470.89 L93.35,469.31 L93.85,467.64 L94.35,465.88 L94.85,464.06 L95.35,462.20 L95.85,460.33 L96.35,458.49 L96.85,456.70 L97.35,455.00 L97.85,453.43 L98.35,452.02 L98.85,450.79 L99.35,449.79 L99.85,449.03 L100.35,448.54 L100.85,448.31 L101.35,448.37 L101.85,448.72 L102.35,449.34 L102.85,450.23 L103.35,451.36 L103.85,452.71 L104.35,454.23 L104.85,455.91 L105.35,457.69 L105.85,459.55 L106.35,461.45 L106.85,463.35 L107.35,465.22 L107.85,467.04 L108.35,468.78 L108.85,470.42 L109.35,471.94 L109.85,473.35 L110.35,474.63 L110.85,475.78 L111.35,476.80 L111.85,477.70 L112.35,478.48 L112.85,479.15 L113.35,479.72 L113.85,480.20 L114.35,480.60 L114.85,480.94 L115.35,481.21 L115.85,481.43 L116.35,481.60 L116.85,481.74 L117.35,481.85 L117.85,481.94 L118.35,482.01 L118.35,482.20 Z" fill="rgba(70,85,150,0.6)" stroke="#27346a" stroke-width="1.2" stroke-linejoin="round"/>
<path d="M48.50,481.60 C48.88,481.55 49.47,481.52 50.80,481.30 C52.13,481.08 54.75,480.83 56.50,480.30 C58.25,479.77 59.85,479.02 61.30,478.10 C62.75,477.18 64.07,476.15 65.20,474.80 C66.33,473.45 67.30,471.77 68.10,470.00 C68.90,468.23 69.45,466.13 70.00,464.20 C70.55,462.27 70.92,460.17 71.40,458.40 C71.88,456.63 72.33,454.92 72.90,453.60 C73.47,452.28 74.28,451.11 74.80,450.50 C75.32,449.89 75.60,449.93 76.00,449.96 C76.40,449.99 76.83,449.93 77.20,450.70 C77.57,451.47 77.88,452.83 78.20,454.60 C78.52,456.37 78.78,459.07 79.10,461.30 C79.42,463.53 79.70,465.75 80.10,468.00 C80.50,470.25 81.02,473.03 81.50,474.80 C81.98,476.57 82.43,477.62 83.00,478.60 C83.57,479.58 84.27,480.22 84.90,480.70 C85.53,481.18 86.48,481.37 86.80,481.50" fill="none" stroke="#b0204f" stroke-width="1.35" stroke-linejoin="round"/>
<line x1="43.70" y1="485.60" x2="43.70" y2="446.50" stroke="#231f20" stroke-width="1.25" />
<line x1="40.40" y1="482.20" x2="43.70" y2="482.20" stroke="#231f20" stroke-width="0.95" />
<line x1="40.40" y1="475.58" x2="43.70" y2="475.58" stroke="#231f20" stroke-width="0.95" />
<line x1="40.40" y1="468.96" x2="43.70" y2="468.96" stroke="#231f20" stroke-width="0.95" />
<line x1="40.40" y1="462.34" x2="43.70" y2="462.34" stroke="#231f20" stroke-width="0.95" />
<line x1="40.40" y1="455.72" x2="43.70" y2="455.72" stroke="#231f20" stroke-width="0.95" />
<line x1="40.40" y1="449.10" x2="43.70" y2="449.10" stroke="#231f20" stroke-width="0.95" />
<line x1="43.10" y1="482.20" x2="134.00" y2="482.20" stroke="#231f20" stroke-width="1.3" />
<line x1="43.70" y1="482.20" x2="43.70" y2="484.80" stroke="#231f20" stroke-width="1" />
<line x1="49.72" y1="482.20" x2="49.72" y2="483.90" stroke="#231f20" stroke-width="0.75" />
<line x1="53.24" y1="482.20" x2="53.24" y2="483.90" stroke="#231f20" stroke-width="0.75" />
<line x1="55.74" y1="482.20" x2="55.74" y2="483.90" stroke="#231f20" stroke-width="0.75" />
<line x1="57.68" y1="482.20" x2="57.68" y2="483.90" stroke="#231f20" stroke-width="0.75" />
<line x1="59.26" y1="482.20" x2="59.26" y2="483.90" stroke="#231f20" stroke-width="0.75" />
<line x1="60.60" y1="482.20" x2="60.60" y2="483.90" stroke="#231f20" stroke-width="0.75" />
<line x1="61.76" y1="482.20" x2="61.76" y2="483.90" stroke="#231f20" stroke-width="0.75" />
<line x1="62.78" y1="482.20" x2="62.78" y2="483.90" stroke="#231f20" stroke-width="0.75" />
<line x1="63.70" y1="482.20" x2="63.70" y2="484.80" stroke="#231f20" stroke-width="1" />
<line x1="69.72" y1="482.20" x2="69.72" y2="483.90" stroke="#231f20" stroke-width="0.75" />
<line x1="73.24" y1="482.20" x2="73.24" y2="483.90" stroke="#231f20" stroke-width="0.75" />
<line x1="75.74" y1="482.20" x2="75.74" y2="483.90" stroke="#231f20" stroke-width="0.75" />
<line x1="77.68" y1="482.20" x2="77.68" y2="483.90" stroke="#231f20" stroke-width="0.75" />
<line x1="79.26" y1="482.20" x2="79.26" y2="483.90" stroke="#231f20" stroke-width="0.75" />
<line x1="80.60" y1="482.20" x2="80.60" y2="483.90" stroke="#231f20" stroke-width="0.75" />
<line x1="81.76" y1="482.20" x2="81.76" y2="483.90" stroke="#231f20" stroke-width="0.75" />
<line x1="82.78" y1="482.20" x2="82.78" y2="483.90" stroke="#231f20" stroke-width="0.75" />
<line x1="83.70" y1="482.20" x2="83.70" y2="484.80" stroke="#231f20" stroke-width="1" />
<line x1="89.72" y1="482.20" x2="89.72" y2="483.90" stroke="#231f20" stroke-width="0.75" />
<line x1="93.24" y1="482.20" x2="93.24" y2="483.90" stroke="#231f20" stroke-width="0.75" />
<line x1="95.74" y1="482.20" x2="95.74" y2="483.90" stroke="#231f20" stroke-width="0.75" />
<line x1="97.68" y1="482.20" x2="97.68" y2="483.90" stroke="#231f20" stroke-width="0.75" />
<line x1="99.26" y1="482.20" x2="99.26" y2="483.90" stroke="#231f20" stroke-width="0.75" />
<line x1="100.60" y1="482.20" x2="100.60" y2="483.90" stroke="#231f20" stroke-width="0.75" />
<line x1="101.76" y1="482.20" x2="101.76" y2="483.90" stroke="#231f20" stroke-width="0.75" />
<line x1="102.78" y1="482.20" x2="102.78" y2="483.90" stroke="#231f20" stroke-width="0.75" />
<line x1="103.70" y1="482.20" x2="103.70" y2="484.80" stroke="#231f20" stroke-width="1" />
<line x1="109.72" y1="482.20" x2="109.72" y2="483.90" stroke="#231f20" stroke-width="0.75" />
<line x1="113.24" y1="482.20" x2="113.24" y2="483.90" stroke="#231f20" stroke-width="0.75" />
<line x1="115.74" y1="482.20" x2="115.74" y2="483.90" stroke="#231f20" stroke-width="0.75" />
<line x1="117.68" y1="482.20" x2="117.68" y2="483.90" stroke="#231f20" stroke-width="0.75" />
<line x1="119.26" y1="482.20" x2="119.26" y2="483.90" stroke="#231f20" stroke-width="0.75" />
<line x1="120.60" y1="482.20" x2="120.60" y2="483.90" stroke="#231f20" stroke-width="0.75" />
<line x1="121.76" y1="482.20" x2="121.76" y2="483.90" stroke="#231f20" stroke-width="0.75" />
<line x1="122.78" y1="482.20" x2="122.78" y2="483.90" stroke="#231f20" stroke-width="0.75" />
<line x1="123.70" y1="482.20" x2="123.70" y2="484.80" stroke="#231f20" stroke-width="1" />
<line x1="129.72" y1="482.20" x2="129.72" y2="483.90" stroke="#231f20" stroke-width="0.75" />
<line x1="133.24" y1="482.20" x2="133.24" y2="483.90" stroke="#231f20" stroke-width="0.75" />
<text x="0" y="0" font-size="7.9" text-anchor="middle" fill="#231f20" stroke="#231f20" stroke-width="0.1" transform="translate(44.60,497.60)">10<tspan font-size="5.3" dy="-3.3">1</tspan></text>
<text x="0" y="0" font-size="7.9" text-anchor="middle" fill="#231f20" stroke="#231f20" stroke-width="0.1" transform="translate(64.60,497.60)">10<tspan font-size="5.3" dy="-3.3">2</tspan></text>
<text x="0" y="0" font-size="7.9" text-anchor="middle" fill="#231f20" stroke="#231f20" stroke-width="0.1" transform="translate(84.60,497.60)">10<tspan font-size="5.3" dy="-3.3">3</tspan></text>
<text x="0" y="0" font-size="7.9" text-anchor="middle" fill="#231f20" stroke="#231f20" stroke-width="0.1" transform="translate(104.60,497.60)">10<tspan font-size="5.3" dy="-3.3">4</tspan></text>
<text x="0" y="0" font-size="7.9" text-anchor="middle" fill="#231f20" stroke="#231f20" stroke-width="0.1" transform="translate(124.60,497.60)">10<tspan font-size="5.3" dy="-3.3">5</tspan></text>
<text x="0" y="0" font-size="8.3" text-anchor="start" font-weight="normal" fill="#231f20" stroke="#231f20" stroke-width="0.1" transform="translate(110.20,458.30)" >5134</text>
<path d="M184.31,482.20 L184.31,482.06 L184.81,481.99 L185.31,481.90 L185.81,481.77 L186.31,481.60 L186.81,481.37 L187.31,481.07 L187.81,480.68 L188.31,480.18 L188.81,479.56 L189.31,478.79 L189.81,477.85 L190.31,476.74 L190.81,475.43 L191.31,473.92 L191.81,472.21 L192.31,470.31 L192.81,468.24 L193.31,466.03 L193.81,463.72 L194.31,461.36 L194.81,459.02 L195.31,456.76 L195.81,454.65 L196.31,452.77 L196.81,451.19 L197.31,449.96 L197.81,449.13 L198.31,448.73 L198.81,448.78 L199.31,449.26 L199.81,450.15 L200.31,451.42 L200.81,453.01 L201.31,454.88 L201.81,456.96 L202.31,459.17 L202.81,461.47 L203.31,463.77 L203.81,466.03 L204.31,468.19 L204.81,470.22 L205.31,472.09 L205.81,473.77 L206.31,475.27 L206.81,476.57 L207.31,477.69 L207.81,478.63 L208.31,479.41 L208.81,480.05 L209.31,480.56 L209.81,480.97 L210.31,481.29 L210.81,481.53 L211.31,481.72 L211.81,481.85 L212.31,481.96 L212.81,482.03 L212.81,482.20 Z" fill="rgba(70,85,150,0.6)" stroke="#27346a" stroke-width="1.2" stroke-linejoin="round"/>
<path d="M155.50,481.60 C155.88,481.55 156.85,481.45 157.80,481.30 C158.75,481.15 160.05,480.98 161.20,480.70 C162.35,480.42 163.53,480.22 164.70,479.60 C165.87,478.98 167.12,477.93 168.20,477.00 C169.28,476.07 170.33,475.15 171.20,474.00 C172.07,472.85 172.75,471.55 173.40,470.10 C174.05,468.65 174.53,466.97 175.10,465.30 C175.67,463.63 176.30,461.62 176.80,460.10 C177.30,458.58 177.67,457.13 178.10,456.20 C178.53,455.27 178.97,454.57 179.40,454.50 C179.83,454.43 180.27,454.87 180.70,455.80 C181.13,456.73 181.57,458.37 182.00,460.10 C182.43,461.83 182.87,464.18 183.30,466.20 C183.73,468.22 184.17,470.48 184.60,472.20 C185.03,473.92 185.47,475.35 185.90,476.50 C186.33,477.65 186.70,478.40 187.20,479.10 C187.70,479.80 188.32,480.32 188.90,480.70 C189.48,481.08 190.10,481.25 190.70,481.40 C191.30,481.55 192.20,481.57 192.50,481.60" fill="none" stroke="#b0204f" stroke-width="1.35" stroke-linejoin="round"/>
<line x1="147.70" y1="485.60" x2="147.70" y2="446.50" stroke="#231f20" stroke-width="1.25" />
<line x1="144.40" y1="482.20" x2="147.70" y2="482.20" stroke="#231f20" stroke-width="0.95" />
<line x1="144.40" y1="475.58" x2="147.70" y2="475.58" stroke="#231f20" stroke-width="0.95" />
<line x1="144.40" y1="468.96" x2="147.70" y2="468.96" stroke="#231f20" stroke-width="0.95" />
<line x1="144.40" y1="462.34" x2="147.70" y2="462.34" stroke="#231f20" stroke-width="0.95" />
<line x1="144.40" y1="455.72" x2="147.70" y2="455.72" stroke="#231f20" stroke-width="0.95" />
<line x1="144.40" y1="449.10" x2="147.70" y2="449.10" stroke="#231f20" stroke-width="0.95" />
<line x1="147.10" y1="482.20" x2="237.50" y2="482.20" stroke="#231f20" stroke-width="1.3" />
<line x1="147.70" y1="482.20" x2="147.70" y2="484.80" stroke="#231f20" stroke-width="1" />
<line x1="153.72" y1="482.20" x2="153.72" y2="483.90" stroke="#231f20" stroke-width="0.75" />
<line x1="157.24" y1="482.20" x2="157.24" y2="483.90" stroke="#231f20" stroke-width="0.75" />
<line x1="159.74" y1="482.20" x2="159.74" y2="483.90" stroke="#231f20" stroke-width="0.75" />
<line x1="161.68" y1="482.20" x2="161.68" y2="483.90" stroke="#231f20" stroke-width="0.75" />
<line x1="163.26" y1="482.20" x2="163.26" y2="483.90" stroke="#231f20" stroke-width="0.75" />
<line x1="164.60" y1="482.20" x2="164.60" y2="483.90" stroke="#231f20" stroke-width="0.75" />
<line x1="165.76" y1="482.20" x2="165.76" y2="483.90" stroke="#231f20" stroke-width="0.75" />
<line x1="166.78" y1="482.20" x2="166.78" y2="483.90" stroke="#231f20" stroke-width="0.75" />
<line x1="167.70" y1="482.20" x2="167.70" y2="484.80" stroke="#231f20" stroke-width="1" />
<line x1="173.72" y1="482.20" x2="173.72" y2="483.90" stroke="#231f20" stroke-width="0.75" />
<line x1="177.24" y1="482.20" x2="177.24" y2="483.90" stroke="#231f20" stroke-width="0.75" />
<line x1="179.74" y1="482.20" x2="179.74" y2="483.90" stroke="#231f20" stroke-width="0.75" />
<line x1="181.68" y1="482.20" x2="181.68" y2="483.90" stroke="#231f20" stroke-width="0.75" />
<line x1="183.26" y1="482.20" x2="183.26" y2="483.90" stroke="#231f20" stroke-width="0.75" />
<line x1="184.60" y1="482.20" x2="184.60" y2="483.90" stroke="#231f20" stroke-width="0.75" />
<line x1="185.76" y1="482.20" x2="185.76" y2="483.90" stroke="#231f20" stroke-width="0.75" />
<line x1="186.78" y1="482.20" x2="186.78" y2="483.90" stroke="#231f20" stroke-width="0.75" />
<line x1="187.70" y1="482.20" x2="187.70" y2="484.80" stroke="#231f20" stroke-width="1" />
<line x1="193.72" y1="482.20" x2="193.72" y2="483.90" stroke="#231f20" stroke-width="0.75" />
<line x1="197.24" y1="482.20" x2="197.24" y2="483.90" stroke="#231f20" stroke-width="0.75" />
<line x1="199.74" y1="482.20" x2="199.74" y2="483.90" stroke="#231f20" stroke-width="0.75" />
<line x1="201.68" y1="482.20" x2="201.68" y2="483.90" stroke="#231f20" stroke-width="0.75" />
<line x1="203.26" y1="482.20" x2="203.26" y2="483.90" stroke="#231f20" stroke-width="0.75" />
<line x1="204.60" y1="482.20" x2="204.60" y2="483.90" stroke="#231f20" stroke-width="0.75" />
<line x1="205.76" y1="482.20" x2="205.76" y2="483.90" stroke="#231f20" stroke-width="0.75" />
<line x1="206.78" y1="482.20" x2="206.78" y2="483.90" stroke="#231f20" stroke-width="0.75" />
<line x1="207.70" y1="482.20" x2="207.70" y2="484.80" stroke="#231f20" stroke-width="1" />
<line x1="213.72" y1="482.20" x2="213.72" y2="483.90" stroke="#231f20" stroke-width="0.75" />
<line x1="217.24" y1="482.20" x2="217.24" y2="483.90" stroke="#231f20" stroke-width="0.75" />
<line x1="219.74" y1="482.20" x2="219.74" y2="483.90" stroke="#231f20" stroke-width="0.75" />
<line x1="221.68" y1="482.20" x2="221.68" y2="483.90" stroke="#231f20" stroke-width="0.75" />
<line x1="223.26" y1="482.20" x2="223.26" y2="483.90" stroke="#231f20" stroke-width="0.75" />
<line x1="224.60" y1="482.20" x2="224.60" y2="483.90" stroke="#231f20" stroke-width="0.75" />
<line x1="225.76" y1="482.20" x2="225.76" y2="483.90" stroke="#231f20" stroke-width="0.75" />
<line x1="226.78" y1="482.20" x2="226.78" y2="483.90" stroke="#231f20" stroke-width="0.75" />
<line x1="227.70" y1="482.20" x2="227.70" y2="484.80" stroke="#231f20" stroke-width="1" />
<line x1="233.72" y1="482.20" x2="233.72" y2="483.90" stroke="#231f20" stroke-width="0.75" />
<line x1="237.24" y1="482.20" x2="237.24" y2="483.90" stroke="#231f20" stroke-width="0.75" />
<text x="0" y="0" font-size="7.9" text-anchor="middle" fill="#231f20" stroke="#231f20" stroke-width="0.1" transform="translate(148.60,497.60)">10<tspan font-size="5.3" dy="-3.3">1</tspan></text>
<text x="0" y="0" font-size="7.9" text-anchor="middle" fill="#231f20" stroke="#231f20" stroke-width="0.1" transform="translate(168.60,497.60)">10<tspan font-size="5.3" dy="-3.3">2</tspan></text>
<text x="0" y="0" font-size="7.9" text-anchor="middle" fill="#231f20" stroke="#231f20" stroke-width="0.1" transform="translate(188.60,497.60)">10<tspan font-size="5.3" dy="-3.3">3</tspan></text>
<text x="0" y="0" font-size="7.9" text-anchor="middle" fill="#231f20" stroke="#231f20" stroke-width="0.1" transform="translate(208.60,497.60)">10<tspan font-size="5.3" dy="-3.3">4</tspan></text>
<text x="0" y="0" font-size="7.9" text-anchor="middle" fill="#231f20" stroke="#231f20" stroke-width="0.1" transform="translate(228.60,497.60)">10<tspan font-size="5.3" dy="-3.3">5</tspan></text>
<text x="0" y="0" font-size="8.3" text-anchor="start" font-weight="normal" fill="#231f20" stroke="#231f20" stroke-width="0.1" transform="translate(212.20,458.30)" >3385</text>
<path d="M333.84,482.20 L333.84,482.08 L334.34,482.02 L334.84,481.94 L335.34,481.83 L335.84,481.67 L336.34,481.47 L336.84,481.20 L337.34,480.84 L337.84,480.39 L338.34,479.83 L338.84,479.13 L339.34,478.28 L339.84,477.27 L340.34,476.08 L340.84,474.72 L341.34,473.18 L341.84,471.47 L342.34,469.62 L342.84,467.66 L343.34,465.63 L343.84,463.58 L344.34,461.58 L344.84,459.68 L345.34,457.95 L345.84,456.45 L346.34,455.25 L346.84,454.39 L347.34,453.90 L347.84,453.80 L348.34,453.80 L348.84,453.80 L349.34,453.80 L349.84,453.80 L350.34,453.80 L350.84,453.80 L351.34,453.80 L351.84,453.80 L352.34,453.99 L352.84,454.66 L353.34,455.77 L353.84,457.27 L354.34,459.09 L354.84,461.15 L355.34,463.35 L355.84,465.61 L356.34,467.85 L356.84,470.00 L357.34,472.01 L357.84,473.83 L358.34,475.44 L358.84,476.84 L359.34,478.02 L359.84,479.00 L360.34,479.79 L360.84,480.42 L361.34,480.90 L361.84,481.27 L362.34,481.55 L362.84,481.75 L363.34,481.89 L363.84,482.00 L364.34,482.07 L364.34,482.20 Z" fill="rgba(70,85,150,0.6)" stroke="#27346a" stroke-width="1.2" stroke-linejoin="round"/>
<path d="M306.10,481.90 L306.60,481.86 L307.10,481.80 L307.60,481.74 L308.10,481.67 L308.60,481.58 L309.10,481.49 L309.60,481.39 L310.10,481.27 L310.60,481.14 L311.10,480.99 L311.60,480.82 L312.10,480.63 L312.60,480.41 L313.10,480.16 L313.60,479.87 L314.10,479.54 L314.60,479.17 L315.10,478.74 L315.60,478.26 L316.10,477.70 L316.60,477.06 L317.10,476.34 L317.60,475.52 L318.10,474.61 L318.60,473.58 L319.10,472.45 L319.60,471.20 L320.10,469.84 L320.60,468.37 L321.10,466.80 L321.60,465.16 L322.10,463.44 L322.60,461.69 L323.10,459.92 L323.60,458.16 L324.10,456.46 L324.60,454.84 L325.10,453.34 L325.60,452.01 L326.10,450.86 L326.60,449.93 L327.10,449.26 L327.60,448.84 L328.10,448.70 L328.60,448.92 L329.10,449.55 L329.60,450.59 L330.10,451.99 L330.60,453.69 L331.10,455.65 L331.60,457.79 L332.10,460.04 L332.60,462.34 L333.10,464.64 L333.60,466.86 L334.10,468.98 L334.60,470.95 L335.10,472.75 L335.60,474.36 L336.10,475.78 L336.60,477.02 L337.10,478.06 L337.60,478.94 L338.10,479.67 L338.60,480.26 L339.10,480.73 L339.60,481.10 L340.10,481.39 L340.60,481.61 L341.10,481.77 L341.60,481.90 L342.10,481.99 L342.60,482.05" fill="none" stroke="#b0204f" stroke-width="1.35" stroke-linejoin="round"/>
<line x1="293.00" y1="485.60" x2="293.00" y2="446.50" stroke="#231f20" stroke-width="1.25" />
<line x1="289.70" y1="482.20" x2="293.00" y2="482.20" stroke="#231f20" stroke-width="0.95" />
<line x1="289.70" y1="475.58" x2="293.00" y2="475.58" stroke="#231f20" stroke-width="0.95" />
<line x1="289.70" y1="468.96" x2="293.00" y2="468.96" stroke="#231f20" stroke-width="0.95" />
<line x1="289.70" y1="462.34" x2="293.00" y2="462.34" stroke="#231f20" stroke-width="0.95" />
<line x1="289.70" y1="455.72" x2="293.00" y2="455.72" stroke="#231f20" stroke-width="0.95" />
<line x1="289.70" y1="449.10" x2="293.00" y2="449.10" stroke="#231f20" stroke-width="0.95" />
<line x1="292.40" y1="482.20" x2="382.00" y2="482.20" stroke="#231f20" stroke-width="1.3" />
<line x1="293.00" y1="482.20" x2="293.00" y2="484.80" stroke="#231f20" stroke-width="1" />
<line x1="299.02" y1="482.20" x2="299.02" y2="483.90" stroke="#231f20" stroke-width="0.75" />
<line x1="302.54" y1="482.20" x2="302.54" y2="483.90" stroke="#231f20" stroke-width="0.75" />
<line x1="305.04" y1="482.20" x2="305.04" y2="483.90" stroke="#231f20" stroke-width="0.75" />
<line x1="306.98" y1="482.20" x2="306.98" y2="483.90" stroke="#231f20" stroke-width="0.75" />
<line x1="308.56" y1="482.20" x2="308.56" y2="483.90" stroke="#231f20" stroke-width="0.75" />
<line x1="309.90" y1="482.20" x2="309.90" y2="483.90" stroke="#231f20" stroke-width="0.75" />
<line x1="311.06" y1="482.20" x2="311.06" y2="483.90" stroke="#231f20" stroke-width="0.75" />
<line x1="312.08" y1="482.20" x2="312.08" y2="483.90" stroke="#231f20" stroke-width="0.75" />
<line x1="313.00" y1="482.20" x2="313.00" y2="484.80" stroke="#231f20" stroke-width="1" />
<line x1="319.02" y1="482.20" x2="319.02" y2="483.90" stroke="#231f20" stroke-width="0.75" />
<line x1="322.54" y1="482.20" x2="322.54" y2="483.90" stroke="#231f20" stroke-width="0.75" />
<line x1="325.04" y1="482.20" x2="325.04" y2="483.90" stroke="#231f20" stroke-width="0.75" />
<line x1="326.98" y1="482.20" x2="326.98" y2="483.90" stroke="#231f20" stroke-width="0.75" />
<line x1="328.56" y1="482.20" x2="328.56" y2="483.90" stroke="#231f20" stroke-width="0.75" />
<line x1="329.90" y1="482.20" x2="329.90" y2="483.90" stroke="#231f20" stroke-width="0.75" />
<line x1="331.06" y1="482.20" x2="331.06" y2="483.90" stroke="#231f20" stroke-width="0.75" />
<line x1="332.08" y1="482.20" x2="332.08" y2="483.90" stroke="#231f20" stroke-width="0.75" />
<line x1="333.00" y1="482.20" x2="333.00" y2="484.80" stroke="#231f20" stroke-width="1" />
<line x1="339.02" y1="482.20" x2="339.02" y2="483.90" stroke="#231f20" stroke-width="0.75" />
<line x1="342.54" y1="482.20" x2="342.54" y2="483.90" stroke="#231f20" stroke-width="0.75" />
<line x1="345.04" y1="482.20" x2="345.04" y2="483.90" stroke="#231f20" stroke-width="0.75" />
<line x1="346.98" y1="482.20" x2="346.98" y2="483.90" stroke="#231f20" stroke-width="0.75" />
<line x1="348.56" y1="482.20" x2="348.56" y2="483.90" stroke="#231f20" stroke-width="0.75" />
<line x1="349.90" y1="482.20" x2="349.90" y2="483.90" stroke="#231f20" stroke-width="0.75" />
<line x1="351.06" y1="482.20" x2="351.06" y2="483.90" stroke="#231f20" stroke-width="0.75" />
<line x1="352.08" y1="482.20" x2="352.08" y2="483.90" stroke="#231f20" stroke-width="0.75" />
<line x1="353.00" y1="482.20" x2="353.00" y2="484.80" stroke="#231f20" stroke-width="1" />
<line x1="359.02" y1="482.20" x2="359.02" y2="483.90" stroke="#231f20" stroke-width="0.75" />
<line x1="362.54" y1="482.20" x2="362.54" y2="483.90" stroke="#231f20" stroke-width="0.75" />
<line x1="365.04" y1="482.20" x2="365.04" y2="483.90" stroke="#231f20" stroke-width="0.75" />
<line x1="366.98" y1="482.20" x2="366.98" y2="483.90" stroke="#231f20" stroke-width="0.75" />
<line x1="368.56" y1="482.20" x2="368.56" y2="483.90" stroke="#231f20" stroke-width="0.75" />
<line x1="369.90" y1="482.20" x2="369.90" y2="483.90" stroke="#231f20" stroke-width="0.75" />
<line x1="371.06" y1="482.20" x2="371.06" y2="483.90" stroke="#231f20" stroke-width="0.75" />
<line x1="372.08" y1="482.20" x2="372.08" y2="483.90" stroke="#231f20" stroke-width="0.75" />
<line x1="373.00" y1="482.20" x2="373.00" y2="484.80" stroke="#231f20" stroke-width="1" />
<line x1="379.02" y1="482.20" x2="379.02" y2="483.90" stroke="#231f20" stroke-width="0.75" />
<text x="0" y="0" font-size="7.9" text-anchor="middle" fill="#231f20" stroke="#231f20" stroke-width="0.1" transform="translate(293.90,497.60)">10<tspan font-size="5.3" dy="-3.3">1</tspan></text>
<text x="0" y="0" font-size="7.9" text-anchor="middle" fill="#231f20" stroke="#231f20" stroke-width="0.1" transform="translate(313.90,497.60)">10<tspan font-size="5.3" dy="-3.3">2</tspan></text>
<text x="0" y="0" font-size="7.9" text-anchor="middle" fill="#231f20" stroke="#231f20" stroke-width="0.1" transform="translate(333.90,497.60)">10<tspan font-size="5.3" dy="-3.3">3</tspan></text>
<text x="0" y="0" font-size="7.9" text-anchor="middle" fill="#231f20" stroke="#231f20" stroke-width="0.1" transform="translate(353.90,497.60)">10<tspan font-size="5.3" dy="-3.3">4</tspan></text>
<text x="0" y="0" font-size="7.9" text-anchor="middle" fill="#231f20" stroke="#231f20" stroke-width="0.1" transform="translate(373.90,497.60)">10<tspan font-size="5.3" dy="-3.3">5</tspan></text>
<text x="0" y="0" font-size="8.3" text-anchor="start" font-weight="normal" fill="#231f20" stroke="#231f20" stroke-width="0.1" transform="translate(355.00,458.30)" >4949</text>
<path d="M413.48,482.03 L413.98,482.00 L414.48,481.96 L414.98,481.92 L415.48,481.86 L415.98,481.80 L416.48,481.73 L416.98,481.64 L417.48,481.54 L417.98,481.43 L418.48,481.28 L418.98,481.12 L419.48,480.91 L419.98,480.67 L420.48,480.37 L420.98,480.01 L421.48,479.58 L421.98,479.06 L422.48,478.44 L422.98,477.70 L423.48,476.82 L423.98,475.81 L424.48,474.64 L424.98,473.31 L425.48,471.81 L425.98,470.17 L426.48,468.37 L426.98,466.46 L427.48,464.46 L427.98,462.42 L428.48,460.37 L428.98,458.37 L429.48,456.49 L429.98,454.79 L430.48,453.31 L430.98,452.11 L431.48,451.25 L431.98,450.74 L432.48,450.61 L432.98,450.97 L433.48,451.85 L433.98,453.22 L434.48,455.00 L434.98,457.10 L435.48,459.45 L435.98,461.93 L436.48,464.44 L436.98,466.92 L437.48,469.27 L437.98,471.45 L438.48,473.41 L438.98,475.14 L439.48,476.63 L439.98,477.88 L440.48,478.90 L440.98,479.73 L441.48,480.38 L441.98,480.88 L442.48,481.26 L442.98,481.54 L443.48,481.75 L443.98,481.90 L444.48,482.00 L444.98,482.07" fill="none" stroke="#b0204f" stroke-width="1.35" stroke-linejoin="round"/>
<path d="M419.24,482.20 L419.24,482.06 L419.74,482.00 L420.24,481.91 L420.74,481.78 L421.24,481.61 L421.74,481.39 L422.24,481.08 L422.74,480.69 L423.24,480.19 L423.74,479.56 L424.24,478.79 L424.74,477.84 L425.24,476.71 L425.74,475.39 L426.24,473.87 L426.74,472.16 L427.24,470.26 L427.74,468.20 L428.24,466.02 L428.74,463.76 L429.24,461.49 L429.74,459.25 L430.24,457.14 L430.74,455.21 L431.24,453.55 L431.74,452.21 L432.24,451.26 L432.74,450.72 L433.24,450.62 L433.74,451.02 L434.24,451.92 L434.74,453.27 L435.24,455.02 L435.74,457.07 L436.24,459.35 L436.74,461.76 L437.24,464.21 L437.74,466.63 L438.24,468.94 L438.74,471.09 L439.24,473.05 L439.74,474.78 L440.24,476.29 L440.74,477.56 L441.24,478.62 L441.74,479.48 L442.24,480.17 L442.74,480.71 L443.24,481.12 L443.74,481.44 L444.24,481.67 L444.74,481.83 L445.24,481.95 L445.74,482.03 L445.74,482.20 Z" fill="rgba(70,85,150,0.5)" stroke="#2a2648" stroke-width="1.5" stroke-linejoin="round"/>
<line x1="397.00" y1="485.60" x2="397.00" y2="446.50" stroke="#231f20" stroke-width="1.25" />
<line x1="393.70" y1="482.20" x2="397.00" y2="482.20" stroke="#231f20" stroke-width="0.95" />
<line x1="393.70" y1="475.58" x2="397.00" y2="475.58" stroke="#231f20" stroke-width="0.95" />
<line x1="393.70" y1="468.96" x2="397.00" y2="468.96" stroke="#231f20" stroke-width="0.95" />
<line x1="393.70" y1="462.34" x2="397.00" y2="462.34" stroke="#231f20" stroke-width="0.95" />
<line x1="393.70" y1="455.72" x2="397.00" y2="455.72" stroke="#231f20" stroke-width="0.95" />
<line x1="393.70" y1="449.10" x2="397.00" y2="449.10" stroke="#231f20" stroke-width="0.95" />
<line x1="396.40" y1="482.20" x2="487.50" y2="482.20" stroke="#231f20" stroke-width="1.3" />
<line x1="397.00" y1="482.20" x2="397.00" y2="484.80" stroke="#231f20" stroke-width="1" />
<line x1="403.02" y1="482.20" x2="403.02" y2="483.90" stroke="#231f20" stroke-width="0.75" />
<line x1="406.54" y1="482.20" x2="406.54" y2="483.90" stroke="#231f20" stroke-width="0.75" />
<line x1="409.04" y1="482.20" x2="409.04" y2="483.90" stroke="#231f20" stroke-width="0.75" />
<line x1="410.98" y1="482.20" x2="410.98" y2="483.90" stroke="#231f20" stroke-width="0.75" />
<line x1="412.56" y1="482.20" x2="412.56" y2="483.90" stroke="#231f20" stroke-width="0.75" />
<line x1="413.90" y1="482.20" x2="413.90" y2="483.90" stroke="#231f20" stroke-width="0.75" />
<line x1="415.06" y1="482.20" x2="415.06" y2="483.90" stroke="#231f20" stroke-width="0.75" />
<line x1="416.08" y1="482.20" x2="416.08" y2="483.90" stroke="#231f20" stroke-width="0.75" />
<line x1="417.00" y1="482.20" x2="417.00" y2="484.80" stroke="#231f20" stroke-width="1" />
<line x1="423.02" y1="482.20" x2="423.02" y2="483.90" stroke="#231f20" stroke-width="0.75" />
<line x1="426.54" y1="482.20" x2="426.54" y2="483.90" stroke="#231f20" stroke-width="0.75" />
<line x1="429.04" y1="482.20" x2="429.04" y2="483.90" stroke="#231f20" stroke-width="0.75" />
<line x1="430.98" y1="482.20" x2="430.98" y2="483.90" stroke="#231f20" stroke-width="0.75" />
<line x1="432.56" y1="482.20" x2="432.56" y2="483.90" stroke="#231f20" stroke-width="0.75" />
<line x1="433.90" y1="482.20" x2="433.90" y2="483.90" stroke="#231f20" stroke-width="0.75" />
<line x1="435.06" y1="482.20" x2="435.06" y2="483.90" stroke="#231f20" stroke-width="0.75" />
<line x1="436.08" y1="482.20" x2="436.08" y2="483.90" stroke="#231f20" stroke-width="0.75" />
<line x1="437.00" y1="482.20" x2="437.00" y2="484.80" stroke="#231f20" stroke-width="1" />
<line x1="443.02" y1="482.20" x2="443.02" y2="483.90" stroke="#231f20" stroke-width="0.75" />
<line x1="446.54" y1="482.20" x2="446.54" y2="483.90" stroke="#231f20" stroke-width="0.75" />
<line x1="449.04" y1="482.20" x2="449.04" y2="483.90" stroke="#231f20" stroke-width="0.75" />
<line x1="450.98" y1="482.20" x2="450.98" y2="483.90" stroke="#231f20" stroke-width="0.75" />
<line x1="452.56" y1="482.20" x2="452.56" y2="483.90" stroke="#231f20" stroke-width="0.75" />
<line x1="453.90" y1="482.20" x2="453.90" y2="483.90" stroke="#231f20" stroke-width="0.75" />
<line x1="455.06" y1="482.20" x2="455.06" y2="483.90" stroke="#231f20" stroke-width="0.75" />
<line x1="456.08" y1="482.20" x2="456.08" y2="483.90" stroke="#231f20" stroke-width="0.75" />
<line x1="457.00" y1="482.20" x2="457.00" y2="484.80" stroke="#231f20" stroke-width="1" />
<line x1="463.02" y1="482.20" x2="463.02" y2="483.90" stroke="#231f20" stroke-width="0.75" />
<line x1="466.54" y1="482.20" x2="466.54" y2="483.90" stroke="#231f20" stroke-width="0.75" />
<line x1="469.04" y1="482.20" x2="469.04" y2="483.90" stroke="#231f20" stroke-width="0.75" />
<line x1="470.98" y1="482.20" x2="470.98" y2="483.90" stroke="#231f20" stroke-width="0.75" />
<line x1="472.56" y1="482.20" x2="472.56" y2="483.90" stroke="#231f20" stroke-width="0.75" />
<line x1="473.90" y1="482.20" x2="473.90" y2="483.90" stroke="#231f20" stroke-width="0.75" />
<line x1="475.06" y1="482.20" x2="475.06" y2="483.90" stroke="#231f20" stroke-width="0.75" />
<line x1="476.08" y1="482.20" x2="476.08" y2="483.90" stroke="#231f20" stroke-width="0.75" />
<line x1="477.00" y1="482.20" x2="477.00" y2="484.80" stroke="#231f20" stroke-width="1" />
<line x1="483.02" y1="482.20" x2="483.02" y2="483.90" stroke="#231f20" stroke-width="0.75" />
<line x1="486.54" y1="482.20" x2="486.54" y2="483.90" stroke="#231f20" stroke-width="0.75" />
<text x="0" y="0" font-size="7.9" text-anchor="middle" fill="#231f20" stroke="#231f20" stroke-width="0.1" transform="translate(397.90,497.60)">10<tspan font-size="5.3" dy="-3.3">1</tspan></text>
<text x="0" y="0" font-size="7.9" text-anchor="middle" fill="#231f20" stroke="#231f20" stroke-width="0.1" transform="translate(417.90,497.60)">10<tspan font-size="5.3" dy="-3.3">2</tspan></text>
<text x="0" y="0" font-size="7.9" text-anchor="middle" fill="#231f20" stroke="#231f20" stroke-width="0.1" transform="translate(437.90,497.60)">10<tspan font-size="5.3" dy="-3.3">3</tspan></text>
<text x="0" y="0" font-size="7.9" text-anchor="middle" fill="#231f20" stroke="#231f20" stroke-width="0.1" transform="translate(457.90,497.60)">10<tspan font-size="5.3" dy="-3.3">4</tspan></text>
<text x="0" y="0" font-size="7.9" text-anchor="middle" fill="#231f20" stroke="#231f20" stroke-width="0.1" transform="translate(477.90,497.60)">10<tspan font-size="5.3" dy="-3.3">5</tspan></text>
<text x="0" y="0" font-size="8.3" text-anchor="start" font-weight="normal" fill="#231f20" stroke="#231f20" stroke-width="0.1" transform="translate(470.00,458.30)" >-ve</text>
<line x1="43.70" y1="507.80" x2="61.50" y2="507.80" stroke="#231f20" stroke-width="1.25" />
<line x1="89.50" y1="507.80" x2="111.50" y2="507.80" stroke="#231f20" stroke-width="1.25" />
<path d="M109.00,504.70 L116.50,507.80 L109.00,510.90 L110.50,507.80 Z" fill="#231f20"/>
<text x="0" y="0" font-size="10.2" text-anchor="middle" font-weight="normal" fill="#231f20" stroke="#231f20" stroke-width="0.3" transform="translate(75.50,511.40) scale(0.75,1)" >BCMA</text>
<line x1="147.50" y1="508.60" x2="170.20" y2="508.60" stroke="#231f20" stroke-width="1.25" />
<line x1="191.00" y1="508.60" x2="215.50" y2="508.60" stroke="#231f20" stroke-width="1.25" />
<path d="M213.00,505.50 L220.50,508.60 L213.00,511.70 L214.50,508.60 Z" fill="#231f20"/>
<text x="0" y="0" font-size="10.2" text-anchor="middle" font-weight="normal" fill="#231f20" stroke="#231f20" stroke-width="0.3" transform="translate(180.60,512.20) scale(0.68,1)" >TACI</text>
<line x1="293.00" y1="508.20" x2="311.00" y2="508.20" stroke="#231f20" stroke-width="1.25" />
<line x1="339.50" y1="508.20" x2="361.00" y2="508.20" stroke="#231f20" stroke-width="1.25" />
<path d="M358.50,505.10 L366.00,508.20 L358.50,511.30 L360.00,508.20 Z" fill="#231f20"/>
<text x="0" y="0" font-size="10.2" text-anchor="middle" font-weight="normal" fill="#231f20" stroke="#231f20" stroke-width="0.3" transform="translate(325.25,511.80) scale(0.75,1)" >BCMA</text>
<line x1="397.00" y1="508.60" x2="419.50" y2="508.60" stroke="#231f20" stroke-width="1.25" />
<line x1="440.50" y1="508.60" x2="465.50" y2="508.60" stroke="#231f20" stroke-width="1.25" />
<path d="M463.00,505.50 L470.50,508.60 L463.00,511.70 L464.50,508.60 Z" fill="#231f20"/>
<text x="0" y="0" font-size="10.2" text-anchor="middle" font-weight="normal" fill="#231f20" stroke="#231f20" stroke-width="0.3" transform="translate(430.00,512.20) scale(0.68,1)" >TACI</text>
<line x1="43.50" y1="541.80" x2="43.50" y2="654.30" stroke="#231f20" stroke-width="1.3" />
<line x1="42.90" y1="644.25" x2="207.90" y2="644.25" stroke="#231f20" stroke-width="1.4" />
<line x1="40.00" y1="644.25" x2="43.50" y2="644.25" stroke="#231f20" stroke-width="1.1" />
<text x="0" y="0" font-size="8.5" text-anchor="end" font-weight="normal" fill="#231f20" stroke="#231f20" stroke-width="0.1" transform="translate(36.00,647.15) scale(0.93,1)" >0</text>
<line x1="40.00" y1="619.44" x2="43.50" y2="619.44" stroke="#231f20" stroke-width="1.1" />
<text x="0" y="0" font-size="8.5" text-anchor="end" font-weight="normal" fill="#231f20" stroke="#231f20" stroke-width="0.1" transform="translate(36.00,622.34) scale(0.93,1)" >25</text>
<line x1="40.00" y1="594.62" x2="43.50" y2="594.62" stroke="#231f20" stroke-width="1.1" />
<text x="0" y="0" font-size="8.5" text-anchor="end" font-weight="normal" fill="#231f20" stroke="#231f20" stroke-width="0.1" transform="translate(36.00,597.52) scale(0.93,1)" >50</text>
<line x1="40.00" y1="569.81" x2="43.50" y2="569.81" stroke="#231f20" stroke-width="1.1" />
<text x="0" y="0" font-size="8.5" text-anchor="end" font-weight="normal" fill="#231f20" stroke="#231f20" stroke-width="0.1" transform="translate(36.00,572.71) scale(0.93,1)" >75</text>
<line x1="40.00" y1="545.00" x2="43.50" y2="545.00" stroke="#231f20" stroke-width="1.1" />
<text x="0" y="0" font-size="8.5" text-anchor="end" font-weight="normal" fill="#231f20" stroke="#231f20" stroke-width="0.1" transform="translate(36.00,547.90) scale(0.93,1)" >100</text>
<line x1="64.00" y1="644.25" x2="64.00" y2="647.25" stroke="#231f20" stroke-width="1.1" />
<text x="0" y="0" font-size="8.2" text-anchor="middle" font-weight="normal" fill="#231f20" stroke="#231f20" stroke-width="0.1" transform="translate(64.30,664.40)" >1:4</text>
<line x1="104.85" y1="644.25" x2="104.85" y2="647.25" stroke="#231f20" stroke-width="1.1" />
<text x="0" y="0" font-size="8.2" text-anchor="middle" font-weight="normal" fill="#231f20" stroke="#231f20" stroke-width="0.1" transform="translate(105.15,664.40)" >1:8</text>
<line x1="145.70" y1="644.25" x2="145.70" y2="647.25" stroke="#231f20" stroke-width="1.1" />
<text x="0" y="0" font-size="8.2" text-anchor="middle" font-weight="normal" fill="#231f20" stroke="#231f20" stroke-width="0.1" transform="translate(146.00,664.40)" >1:16</text>
<line x1="186.55" y1="644.25" x2="186.55" y2="647.25" stroke="#231f20" stroke-width="1.1" />
<text x="0" y="0" font-size="8.2" text-anchor="middle" font-weight="normal" fill="#231f20" stroke="#231f20" stroke-width="0.1" transform="translate(186.85,664.40)" >1:32</text>
<text x="0" y="0" font-size="10.1" text-anchor="middle" font-weight="normal" fill="#231f20" stroke="#231f20" stroke-width="0.1" transform="translate(125.30,678.50) scale(0.75,1)" >E:T ratio</text>
<text x="0" y="0" font-size="10.2" text-anchor="middle" font-weight="normal" fill="#231f20" stroke="#231f20" stroke-width="0.1" transform="translate(16.30,592.00) rotate(-90) scale(0.755,1)" >% cytolysis</text>
<path d="M64.00,617.06 L104.85,632.04 L145.70,636.01 L186.55,638.69" fill="none" stroke="#64a83c" stroke-width="1.6" stroke-dasharray="3.6,2.3"/>
<line x1="64.00" y1="620.53" x2="64.00" y2="614.38" stroke="#64a83c" stroke-width="1.05" />
<line x1="62.10" y1="620.53" x2="65.90" y2="620.53" stroke="#64a83c" stroke-width="1.05" />
<line x1="62.10" y1="614.38" x2="65.90" y2="614.38" stroke="#64a83c" stroke-width="1.05" />
<path d="M61.70,615.36 L66.30,615.36 L64.00,619.16 Z" fill="#64a83c"/>
<line x1="104.85" y1="640.97" x2="104.85" y2="624.40" stroke="#64a83c" stroke-width="1.05" />
<line x1="102.95" y1="640.97" x2="106.75" y2="640.97" stroke="#64a83c" stroke-width="1.05" />
<line x1="102.95" y1="624.40" x2="106.75" y2="624.40" stroke="#64a83c" stroke-width="1.05" />
<path d="M102.55,630.34 L107.15,630.34 L104.85,634.14 Z" fill="#64a83c"/>
<line x1="145.70" y1="648.02" x2="145.70" y2="624.40" stroke="#64a83c" stroke-width="1.05" />
<line x1="143.80" y1="648.02" x2="147.60" y2="648.02" stroke="#64a83c" stroke-width="1.05" />
<line x1="143.80" y1="624.40" x2="147.60" y2="624.40" stroke="#64a83c" stroke-width="1.05" />
<path d="M143.40,634.31 L148.00,634.31 L145.70,638.11 Z" fill="#64a83c"/>
<line x1="186.55" y1="650.80" x2="186.55" y2="628.67" stroke="#64a83c" stroke-width="1.05" />
<line x1="184.65" y1="650.80" x2="188.45" y2="650.80" stroke="#64a83c" stroke-width="1.05" />
<line x1="184.65" y1="628.67" x2="188.45" y2="628.67" stroke="#64a83c" stroke-width="1.05" />
<path d="M184.25,636.99 L188.85,636.99 L186.55,640.79 Z" fill="#64a83c"/>
<path d="M64.00,545.99 L104.85,552.94 L145.70,574.28 L186.55,588.17" fill="none" stroke="#2b4478" stroke-width="1.8" stroke-linejoin="round"/>
<rect x="61.80" y="543.79" width="4.40" height="4.40" fill="#2b4478" />
<line x1="104.85" y1="554.92" x2="104.85" y2="550.96" stroke="#2b4478" stroke-width="1.05" />
<line x1="102.95" y1="554.92" x2="106.75" y2="554.92" stroke="#2b4478" stroke-width="1.05" />
<line x1="102.95" y1="550.96" x2="106.75" y2="550.96" stroke="#2b4478" stroke-width="1.05" />
<rect x="102.65" y="550.74" width="4.40" height="4.40" fill="#2b4478" />
<line x1="145.70" y1="578.75" x2="145.70" y2="571.80" stroke="#2b4478" stroke-width="1.05" />
<line x1="143.80" y1="578.75" x2="147.60" y2="578.75" stroke="#2b4478" stroke-width="1.05" />
<line x1="143.80" y1="571.80" x2="147.60" y2="571.80" stroke="#2b4478" stroke-width="1.05" />
<rect x="143.50" y="572.08" width="4.40" height="4.40" fill="#2b4478" />
<line x1="186.55" y1="590.65" x2="186.55" y2="586.68" stroke="#2b4478" stroke-width="1.05" />
<line x1="184.65" y1="590.65" x2="188.45" y2="590.65" stroke="#2b4478" stroke-width="1.05" />
<line x1="184.65" y1="586.68" x2="188.45" y2="586.68" stroke="#2b4478" stroke-width="1.05" />
<rect x="184.35" y="585.97" width="4.40" height="4.40" fill="#2b4478" />
<path d="M64.00,545.99 L104.85,551.95 L145.70,568.82 L186.55,586.68" fill="none" stroke="#961038" stroke-width="1.8" stroke-linejoin="round"/>
<circle cx="64.00" cy="545.99" r="2.4" fill="#961038"/>
<line x1="104.85" y1="553.93" x2="104.85" y2="549.96" stroke="#961038" stroke-width="1.05" />
<line x1="102.95" y1="553.93" x2="106.75" y2="553.93" stroke="#961038" stroke-width="1.05" />
<line x1="102.95" y1="549.96" x2="106.75" y2="549.96" stroke="#961038" stroke-width="1.05" />
<circle cx="104.85" cy="551.95" r="2.4" fill="#961038"/>
<line x1="145.70" y1="571.80" x2="145.70" y2="565.84" stroke="#961038" stroke-width="1.05" />
<line x1="143.80" y1="571.80" x2="147.60" y2="571.80" stroke="#961038" stroke-width="1.05" />
<line x1="143.80" y1="565.84" x2="147.60" y2="565.84" stroke="#961038" stroke-width="1.05" />
<circle cx="145.70" cy="568.82" r="2.4" fill="#961038"/>
<line x1="186.55" y1="588.67" x2="186.55" y2="584.70" stroke="#961038" stroke-width="1.05" />
<line x1="184.65" y1="588.67" x2="188.45" y2="588.67" stroke="#961038" stroke-width="1.05" />
<line x1="184.65" y1="584.70" x2="188.45" y2="584.70" stroke="#961038" stroke-width="1.05" />
<circle cx="186.55" cy="586.68" r="2.4" fill="#961038"/>
<text x="0" y="0" font-size="8.6" text-anchor="middle" font-weight="normal" fill="#8e1538" stroke="#8e1538" stroke-width="0.3" transform="translate(64.00,543.60)" >***</text>
<text x="0" y="0" font-size="8.6" text-anchor="middle" font-weight="normal" fill="#8e1538" stroke="#8e1538" stroke-width="0.3" transform="translate(104.85,549.50)" >***</text>
<text x="0" y="0" font-size="8.6" text-anchor="middle" font-weight="normal" fill="#8e1538" stroke="#8e1538" stroke-width="0.3" transform="translate(145.70,565.30)" >***</text>
<text x="0" y="0" font-size="8.6" text-anchor="middle" font-weight="normal" fill="#8e1538" stroke="#8e1538" stroke-width="0.3" transform="translate(186.55,584.50)" >**</text>
<text x="0" y="0" font-size="8.6" text-anchor="middle" font-weight="normal" fill="#2d4a80" stroke="#2d4a80" stroke-width="0.3" transform="translate(64.00,559.10)" >***</text>
<text x="0" y="0" font-size="8.6" text-anchor="middle" font-weight="normal" fill="#2d4a80" stroke="#2d4a80" stroke-width="0.3" transform="translate(104.85,567.30)" >***</text>
<text x="0" y="0" font-size="8.6" text-anchor="middle" font-weight="normal" fill="#2d4a80" stroke="#2d4a80" stroke-width="0.3" transform="translate(145.70,590.50)" >**</text>
<text x="0" y="0" font-size="8.6" text-anchor="middle" font-weight="normal" fill="#2d4a80" stroke="#2d4a80" stroke-width="0.3" transform="translate(186.55,602.60)" >**</text>
<text x="0" y="0" font-size="8.2" text-anchor="start" font-weight="normal" fill="#231f20" stroke="#231f20" stroke-width="0.1" transform="translate(208.20,638.90)" >n=5</text>
<line x1="293.00" y1="541.80" x2="293.00" y2="654.30" stroke="#231f20" stroke-width="1.3" />
<line x1="292.40" y1="644.25" x2="457.40" y2="644.25" stroke="#231f20" stroke-width="1.4" />
<line x1="289.50" y1="644.25" x2="293.00" y2="644.25" stroke="#231f20" stroke-width="1.1" />
<text x="0" y="0" font-size="8.5" text-anchor="end" font-weight="normal" fill="#231f20" stroke="#231f20" stroke-width="0.1" transform="translate(285.50,647.15) scale(0.93,1)" >0</text>
<line x1="289.50" y1="619.44" x2="293.00" y2="619.44" stroke="#231f20" stroke-width="1.1" />
<text x="0" y="0" font-size="8.5" text-anchor="end" font-weight="normal" fill="#231f20" stroke="#231f20" stroke-width="0.1" transform="translate(285.50,622.34) scale(0.93,1)" >25</text>
<line x1="289.50" y1="594.62" x2="293.00" y2="594.62" stroke="#231f20" stroke-width="1.1" />
<text x="0" y="0" font-size="8.5" text-anchor="end" font-weight="normal" fill="#231f20" stroke="#231f20" stroke-width="0.1" transform="translate(285.50,597.52) scale(0.93,1)" >50</text>
<line x1="289.50" y1="569.81" x2="293.00" y2="569.81" stroke="#231f20" stroke-width="1.1" />
<text x="0" y="0" font-size="8.5" text-anchor="end" font-weight="normal" fill="#231f20" stroke="#231f20" stroke-width="0.1" transform="translate(285.50,572.71) scale(0.93,1)" >75</text>
<line x1="289.50" y1="545.00" x2="293.00" y2="545.00" stroke="#231f20" stroke-width="1.1" />
<text x="0" y="0" font-size="8.5" text-anchor="end" font-weight="normal" fill="#231f20" stroke="#231f20" stroke-width="0.1" transform="translate(285.50,547.90) scale(0.93,1)" >100</text>
<line x1="313.50" y1="644.25" x2="313.50" y2="647.25" stroke="#231f20" stroke-width="1.1" />
<text x="0" y="0" font-size="8.2" text-anchor="middle" font-weight="normal" fill="#231f20" stroke="#231f20" stroke-width="0.1" transform="translate(313.80,664.40)" >1:4</text>
<line x1="354.35" y1="644.25" x2="354.35" y2="647.25" stroke="#231f20" stroke-width="1.1" />
<text x="0" y="0" font-size="8.2" text-anchor="middle" font-weight="normal" fill="#231f20" stroke="#231f20" stroke-width="0.1" transform="translate(354.65,664.40)" >1:8</text>
<line x1="395.20" y1="644.25" x2="395.20" y2="647.25" stroke="#231f20" stroke-width="1.1" />
<text x="0" y="0" font-size="8.2" text-anchor="middle" font-weight="normal" fill="#231f20" stroke="#231f20" stroke-width="0.1" transform="translate(395.50,664.40)" >1:16</text>
<line x1="436.05" y1="644.25" x2="436.05" y2="647.25" stroke="#231f20" stroke-width="1.1" />
<text x="0" y="0" font-size="8.2" text-anchor="middle" font-weight="normal" fill="#231f20" stroke="#231f20" stroke-width="0.1" transform="translate(436.35,664.40)" >1:32</text>
<text x="0" y="0" font-size="10.1" text-anchor="middle" font-weight="normal" fill="#231f20" stroke="#231f20" stroke-width="0.1" transform="translate(374.80,678.50) scale(0.75,1)" >E:T ratio</text>
<text x="0" y="0" font-size="10.2" text-anchor="middle" font-weight="normal" fill="#231f20" stroke="#231f20" stroke-width="0.1" transform="translate(265.80,592.00) rotate(-90) scale(0.755,1)" >% cytolysis</text>
<path d="M313.50,634.33 L354.35,642.26 L395.20,643.75 L436.05,636.31" fill="none" stroke="#64a83c" stroke-width="1.6" stroke-dasharray="3.6,2.3"/>
<line x1="313.50" y1="639.29" x2="313.50" y2="629.36" stroke="#64a83c" stroke-width="1.05" />
<line x1="311.60" y1="639.29" x2="315.40" y2="639.29" stroke="#64a83c" stroke-width="1.05" />
<line x1="311.60" y1="629.36" x2="315.40" y2="629.36" stroke="#64a83c" stroke-width="1.05" />
<path d="M311.20,632.62 L315.80,632.62 L313.50,636.43 Z" fill="#64a83c"/>
<line x1="354.35" y1="647.72" x2="354.35" y2="637.80" stroke="#64a83c" stroke-width="1.05" />
<line x1="352.45" y1="647.72" x2="356.25" y2="647.72" stroke="#64a83c" stroke-width="1.05" />
<line x1="352.45" y1="637.80" x2="356.25" y2="637.80" stroke="#64a83c" stroke-width="1.05" />
<path d="M352.05,640.56 L356.65,640.56 L354.35,644.37 Z" fill="#64a83c"/>
<line x1="395.20" y1="648.22" x2="395.20" y2="636.81" stroke="#64a83c" stroke-width="1.05" />
<line x1="393.30" y1="648.22" x2="397.10" y2="648.22" stroke="#64a83c" stroke-width="1.05" />
<line x1="393.30" y1="636.81" x2="397.10" y2="636.81" stroke="#64a83c" stroke-width="1.05" />
<path d="M392.90,642.05 L397.50,642.05 L395.20,645.85 Z" fill="#64a83c"/>
<line x1="436.05" y1="639.78" x2="436.05" y2="633.33" stroke="#64a83c" stroke-width="1.05" />
<line x1="434.15" y1="639.78" x2="437.95" y2="639.78" stroke="#64a83c" stroke-width="1.05" />
<line x1="434.15" y1="633.33" x2="437.95" y2="633.33" stroke="#64a83c" stroke-width="1.05" />
<path d="M433.75,634.61 L438.35,634.61 L436.05,638.41 Z" fill="#64a83c"/>
<path d="M313.50,568.82 L354.35,589.66 L395.20,607.53 L436.05,618.45" fill="none" stroke="#2b4478" stroke-width="1.8" stroke-linejoin="round"/>
<line x1="313.50" y1="578.75" x2="313.50" y2="561.87" stroke="#2b4478" stroke-width="1.05" />
<line x1="311.60" y1="578.75" x2="315.40" y2="578.75" stroke="#2b4478" stroke-width="1.05" />
<line x1="311.60" y1="561.87" x2="315.40" y2="561.87" stroke="#2b4478" stroke-width="1.05" />
<rect x="311.30" y="566.62" width="4.40" height="4.40" fill="#2b4478" />
<line x1="354.35" y1="596.11" x2="354.35" y2="585.69" stroke="#2b4478" stroke-width="1.05" />
<line x1="352.45" y1="596.11" x2="356.25" y2="596.11" stroke="#2b4478" stroke-width="1.05" />
<line x1="352.45" y1="585.69" x2="356.25" y2="585.69" stroke="#2b4478" stroke-width="1.05" />
<rect x="352.15" y="587.46" width="4.40" height="4.40" fill="#2b4478" />
<line x1="395.20" y1="615.47" x2="395.20" y2="597.11" stroke="#2b4478" stroke-width="1.05" />
<line x1="393.30" y1="615.47" x2="397.10" y2="615.47" stroke="#2b4478" stroke-width="1.05" />
<line x1="393.30" y1="597.11" x2="397.10" y2="597.11" stroke="#2b4478" stroke-width="1.05" />
<rect x="393.00" y="605.33" width="4.40" height="4.40" fill="#2b4478" />
<line x1="436.05" y1="622.91" x2="436.05" y2="612.99" stroke="#2b4478" stroke-width="1.05" />
<line x1="434.15" y1="622.91" x2="437.95" y2="622.91" stroke="#2b4478" stroke-width="1.05" />
<line x1="434.15" y1="612.99" x2="437.95" y2="612.99" stroke="#2b4478" stroke-width="1.05" />
<rect x="433.85" y="616.25" width="4.40" height="4.40" fill="#2b4478" />
<path d="M313.50,554.92 L354.35,585.69 L395.20,605.54 L436.05,615.96" fill="none" stroke="#961038" stroke-width="1.8" stroke-linejoin="round"/>
<line x1="313.50" y1="560.38" x2="313.50" y2="548.97" stroke="#961038" stroke-width="1.05" />
<line x1="311.60" y1="560.38" x2="315.40" y2="560.38" stroke="#961038" stroke-width="1.05" />
<line x1="311.60" y1="548.97" x2="315.40" y2="548.97" stroke="#961038" stroke-width="1.05" />
<circle cx="313.50" cy="554.92" r="2.4" fill="#961038"/>
<line x1="354.35" y1="593.14" x2="354.35" y2="576.26" stroke="#961038" stroke-width="1.05" />
<line x1="352.45" y1="593.14" x2="356.25" y2="593.14" stroke="#961038" stroke-width="1.05" />
<line x1="352.45" y1="576.26" x2="356.25" y2="576.26" stroke="#961038" stroke-width="1.05" />
<circle cx="354.35" cy="585.69" r="2.4" fill="#961038"/>
<line x1="395.20" y1="611.50" x2="395.20" y2="599.59" stroke="#961038" stroke-width="1.05" />
<line x1="393.30" y1="611.50" x2="397.10" y2="611.50" stroke="#961038" stroke-width="1.05" />
<line x1="393.30" y1="599.59" x2="397.10" y2="599.59" stroke="#961038" stroke-width="1.05" />
<circle cx="395.20" cy="605.54" r="2.4" fill="#961038"/>
<line x1="436.05" y1="618.94" x2="436.05" y2="612.99" stroke="#961038" stroke-width="1.05" />
<line x1="434.15" y1="618.94" x2="437.95" y2="618.94" stroke="#961038" stroke-width="1.05" />
<line x1="434.15" y1="612.99" x2="437.95" y2="612.99" stroke="#961038" stroke-width="1.05" />
<circle cx="436.05" cy="615.96" r="2.4" fill="#961038"/>
<text x="0" y="0" font-size="8.6" text-anchor="middle" font-weight="normal" fill="#8e1538" stroke="#8e1538" stroke-width="0.3" transform="translate(313.50,549.30)" >***</text>
<text x="0" y="0" font-size="8.6" text-anchor="middle" font-weight="normal" fill="#8e1538" stroke="#8e1538" stroke-width="0.3" transform="translate(354.35,576.80)" >***</text>
<text x="0" y="0" font-size="8.6" text-anchor="middle" font-weight="normal" fill="#8e1538" stroke="#8e1538" stroke-width="0.3" transform="translate(395.20,598.00)" >**</text>
<text x="0" y="0" font-size="8.6" text-anchor="middle" font-weight="normal" fill="#8e1538" stroke="#8e1538" stroke-width="0.3" transform="translate(436.05,613.70)" >**</text>
<text x="0" y="0" font-size="8.6" text-anchor="middle" font-weight="normal" fill="#2d4a80" stroke="#2d4a80" stroke-width="0.3" transform="translate(313.50,588.00)" >**</text>
<text x="0" y="0" font-size="8.6" text-anchor="middle" font-weight="normal" fill="#2d4a80" stroke="#2d4a80" stroke-width="0.3" transform="translate(354.35,605.50)" >***</text>
<text x="0" y="0" font-size="8.6" text-anchor="middle" font-weight="normal" fill="#2d4a80" stroke="#2d4a80" stroke-width="0.3" transform="translate(395.20,624.30)" >**</text>
<text x="0" y="0" font-size="8.6" text-anchor="middle" font-weight="normal" fill="#2d4a80" stroke="#2d4a80" stroke-width="0.3" transform="translate(436.05,631.70)" >**</text>
<text x="0" y="0" font-size="8.2" text-anchor="start" font-weight="normal" fill="#231f20" stroke="#231f20" stroke-width="0.1" transform="translate(457.80,638.90)" >n=5</text>
<line x1="456.00" y1="550.30" x2="468.30" y2="550.30" stroke="#2b4478" stroke-width="1.6" />
<rect x="460.00" y="548.20" width="4.20" height="4.20" fill="#2b4478" />
<text x="0" y="0" font-size="7.95" text-anchor="start" font-weight="normal" fill="#231f20" stroke="#231f20" stroke-width="0.1" transform="translate(471.80,553.20)" >ACAR-H</text>
<line x1="456.00" y1="562.65" x2="468.30" y2="562.65" stroke="#961038" stroke-width="1.6" />
<circle cx="462.1" cy="562.65" r="2.3" fill="#961038"/>
<text x="0" y="0" font-size="7.95" text-anchor="start" font-weight="normal" fill="#231f20" stroke="#231f20" stroke-width="0.1" transform="translate(471.80,565.55)" >ACAR-CD8</text>
<line x1="455.80" y1="575.00" x2="458.40" y2="575.00" stroke="#64a83c" stroke-width="1.6" />
<line x1="465.80" y1="575.00" x2="468.40" y2="575.00" stroke="#64a83c" stroke-width="1.6" />
<path d="M459.4,573.00 L464.8,573.00 L462.1,577.40 Z" fill="#64a83c"/>
<text x="0" y="0" font-size="7.95" text-anchor="start" font-weight="normal" fill="#231f20" stroke="#231f20" stroke-width="0.1" transform="translate(471.80,577.90)" >NT</text>
</svg>
</body></html>
